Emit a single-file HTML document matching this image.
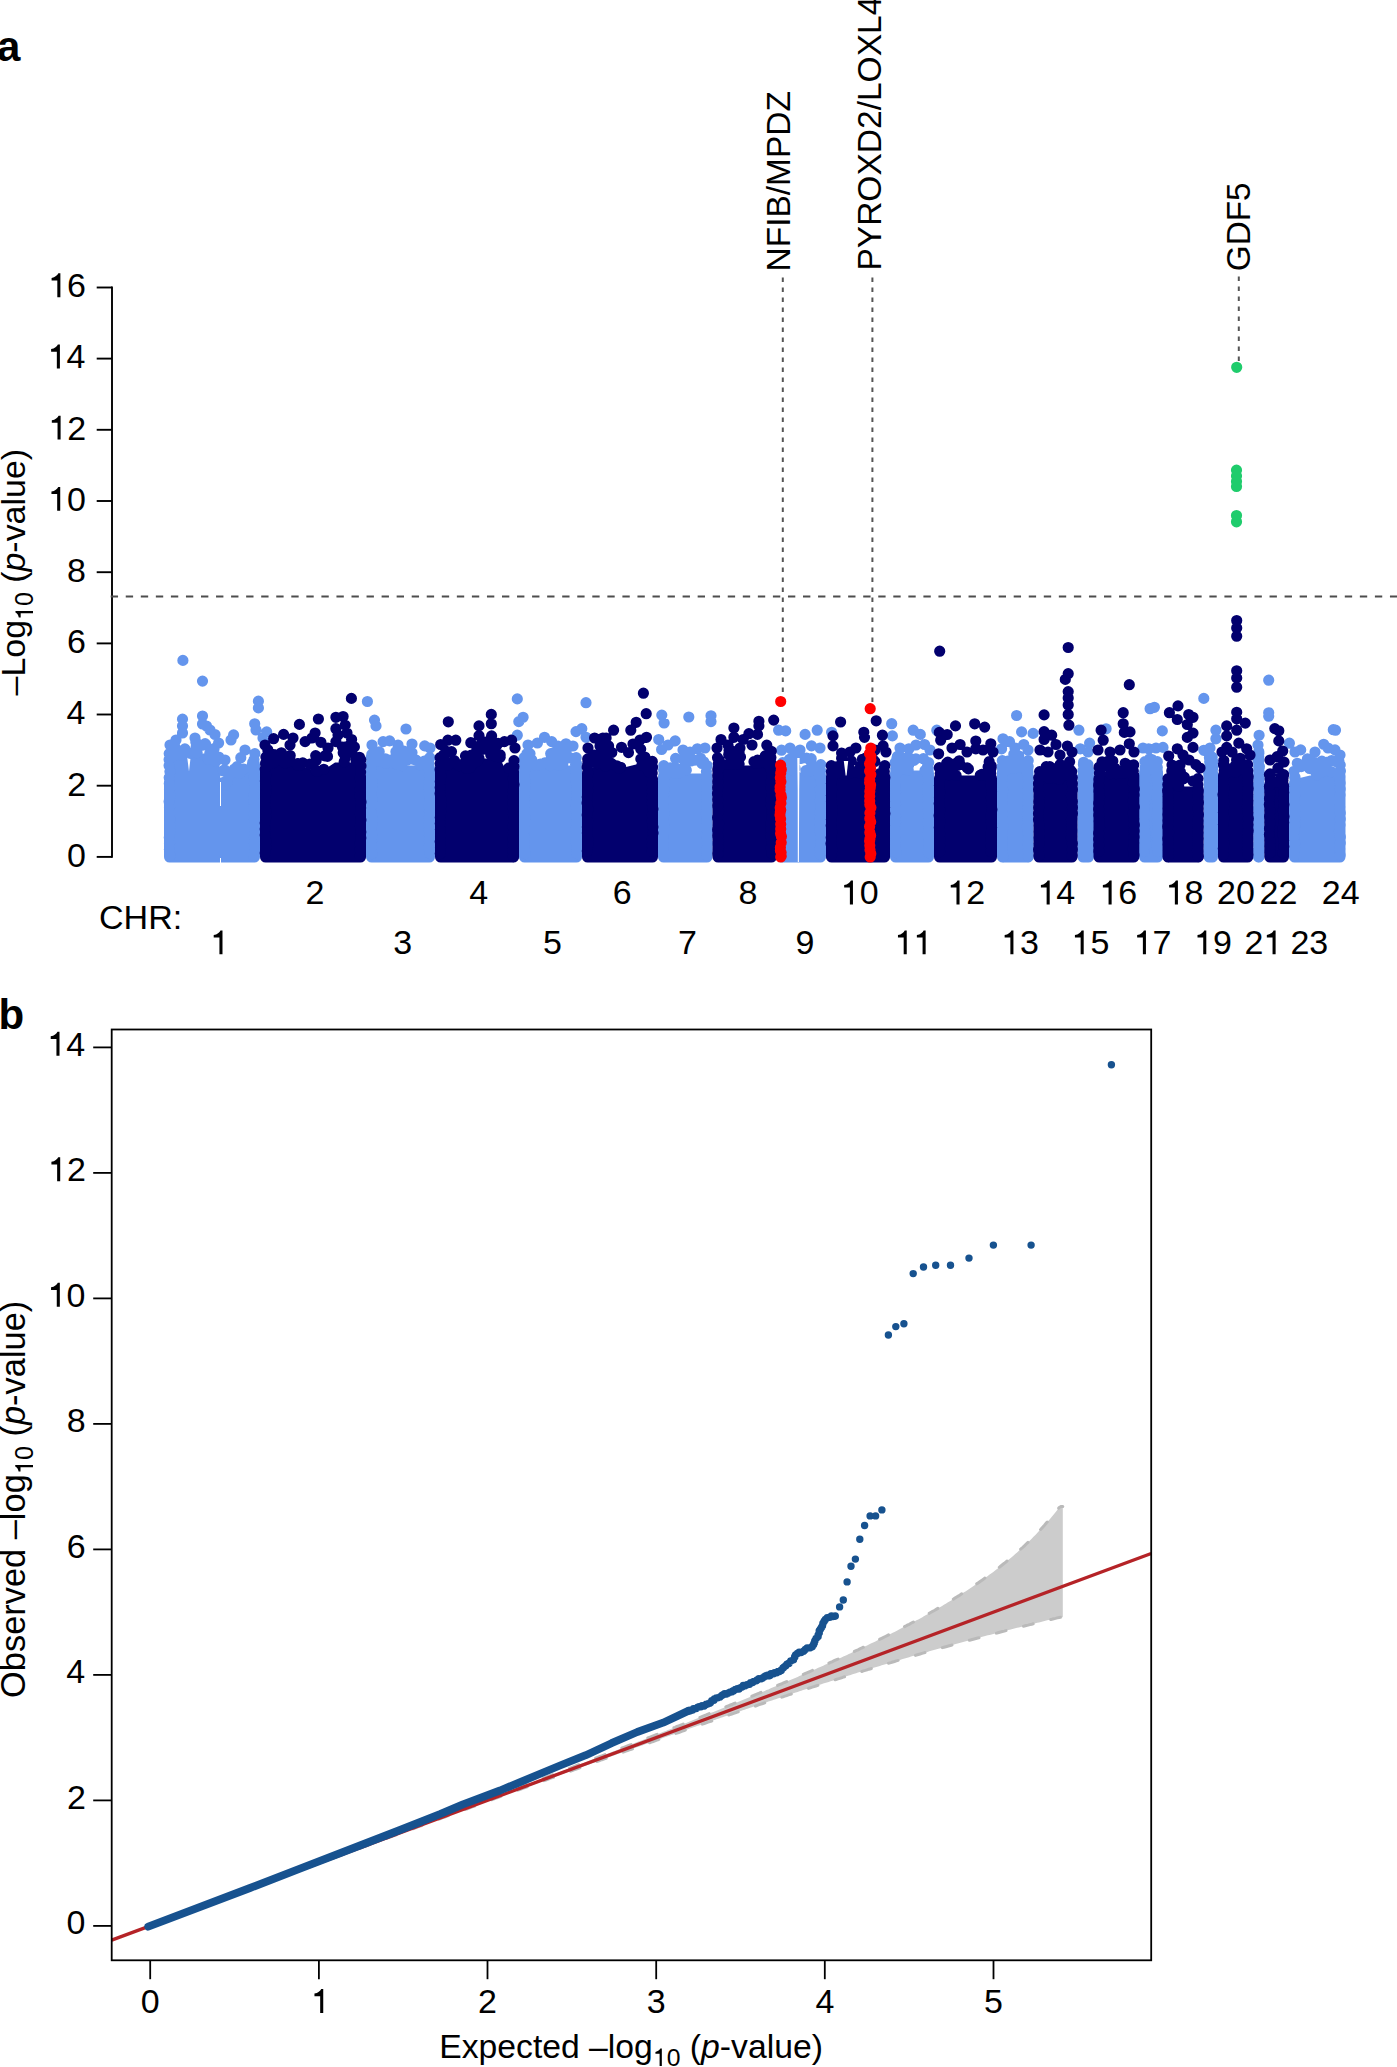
<!DOCTYPE html><html><head><meta charset="utf-8"><style>html,body{margin:0;padding:0;background:#fff;overflow:hidden}svg{display:block}text{font-family:"Liberation Sans",sans-serif;fill:#000}</style></head><body>
<svg width="1397" height="2067" viewBox="0 0 1397 2067">
<rect width="1397" height="2067" fill="#fff"/>
<g transform="translate(-3.02 61.2)"><text x="0" y="0" font-size="42" font-weight="bold">a</text></g>
<g transform="translate(-1.62 1029)"><text x="0" y="0" font-size="42" font-weight="bold">b</text></g>
<g stroke="#000" stroke-width="1.9" fill="none">
<path d="M112 286.6 V857.8"/>
<path d="M96.7 856.9H112"/>
<path d="M96.7 785.7H112"/>
<path d="M96.7 714.5H112"/>
<path d="M96.7 643.4H112"/>
<path d="M96.7 572.2H112"/>
<path d="M96.7 501H112"/>
<path d="M96.7 429.8H112"/>
<path d="M96.7 358.6H112"/>
<path d="M96.7 287.5H112"/>
</g>
<g transform="translate(66.92 866.7)"><text x="0" y="0" font-size="34">0</text></g>
<g transform="translate(67.3 795.52)"><text x="0" y="0" font-size="34">2</text></g>
<g transform="translate(66.59 724.34)"><text x="0" y="0" font-size="34">4</text></g>
<g transform="translate(67.08 653.16)"><text x="0" y="0" font-size="34">6</text></g>
<g transform="translate(67.06 581.98)"><text x="0" y="0" font-size="34">8</text></g>
<g transform="translate(48.02 510.8)"><text x="18.9" y="0" font-size="34">0</text><path d="M9.15 0L12.21 0L12.21 -23.9L10.2 -23.9C9.25 -21.76 6.97 -19.89 3.43 -19.38L3.43 -16.8L9.15 -16.8Z"/></g>
<g transform="translate(48.39 439.62)"><text x="18.9" y="0" font-size="34">2</text><path d="M9.15 0L12.21 0L12.21 -23.9L10.2 -23.9C9.25 -21.76 6.97 -19.89 3.43 -19.38L3.43 -16.8L9.15 -16.8Z"/></g>
<g transform="translate(47.69 368.44)"><text x="18.9" y="0" font-size="34">4</text><path d="M9.15 0L12.21 0L12.21 -23.9L10.2 -23.9C9.25 -21.76 6.97 -19.89 3.43 -19.38L3.43 -16.8L9.15 -16.8Z"/></g>
<g transform="translate(48.17 297.26)"><text x="18.9" y="0" font-size="34">6</text><path d="M9.15 0L12.21 0L12.21 -23.9L10.2 -23.9C9.25 -21.76 6.97 -19.89 3.43 -19.38L3.43 -16.8L9.15 -16.8Z"/></g>
<g transform="translate(24.8 695.4) rotate(-90)"><text x="0" y="0" font-size="33.93">&#8211;Log</text><text x="89.33" y="8.2" font-size="24.94">0</text><text x="112.62" y="0" font-size="33.93">(</text><text x="123.92" y="0" font-size="33.93" font-style="italic">p</text><text x="142.78" y="0" font-size="33.93">-value)</text><path d="M82.17 8.2L84.41 8.2L84.41 -9.33L82.94 -9.33C82.25 -7.76 80.57 -6.39 77.98 -6.01L77.98 -4.12L82.17 -4.12Z"/></g>
<path d="M110.7 596.5H1397" stroke="#4d4d4d" stroke-width="2.1" stroke-dasharray="7.35 7.7" fill="none"/>
<path d="M164 782.6L164.5 779.6L168 765.6L172 755.6L187 755.6L189 771.6L191 753.6L205 753.6L207 761.6L219 761.6L221 785.6L228 785.6L230 775.6L240 775.6L241 771.6L251 771.6L253 761.6L259.5 761.6L260 764.6L260 857A5.6 5.6 0 0 1 254.4 862.6L169.6 862.6A5.6 5.6 0 0 1 164 857Z" fill="#6495ED"/>
<path d="M197.1 752.8h0M224.8 785.4h0M215 758.4h0M174.5 750.2h0M172.8 751.4h0M175.5 755.3h0M205.6 744.2h0M180.1 754.1h0M222.8 770.9h0M218.5 758h0M252.4 764.5h0M242.4 769.4h0M181.8 755.1h0M195.8 742h0M184.9 748.9h0M223.8 782.3h0M216 761.4h0M174.7 754.3h0M227.3 781.5h0M196.2 746.8h0M208 759.3h0M237 766.6h0M190.3 753.3h0M214.1 748.7h0M231.5 773.4h0M252.7 762.5h0M205.1 743.6h0M182.5 750.5h0M172.9 747.2h0M234.4 769h0M243.8 769.1h0M228.6 775.8h0M218.8 757h0M240.8 757.7h0M209.8 753.3h0M174.7 746.5h0M224.5 769.8h0M239.3 773.5h0M202.3 745.2h0M171.5 752.2h0M169.2 753.6h0M169.1 759.6h0M169.1 765.6h0M169.9 771.6h0M169.2 777.6h0M169.3 783.6h0M169.5 789.6h0M170 795.6h0M169.1 801.6h0M169.5 807.6h0M169.7 813.6h0M170.1 819.6h0M170 825.6h0M170 831.6h0M169.3 837.6h0M169.5 843.6h0M169.4 849.6h0M170.1 855.6h0M254.9 753.6h0M254 759.6h0M254 765.6h0M254.1 771.6h0M254.1 777.6h0M254.4 783.6h0M254.5 789.6h0M254.1 795.6h0M253.8 801.6h0M254.3 807.6h0M254.2 813.6h0M254.5 819.6h0M254.9 825.6h0M254.6 831.6h0M254.4 837.6h0M254.5 843.6h0M254.6 849.6h0M253.9 855.6h0M182.9 660.4h0M202.5 681.1h0M258.4 701.2h0M258.4 707.9h0M182.5 719.2h0M182.5 726h0M182.5 733h0M202.5 716h0M202.5 724h0M206.5 726h0M210 730h0M215 734.5h0M218.6 743h0M233.6 734.9h0M231 740h0M254.7 723.8h0M256 730h0M266.7 731.9h0M263 738h0M170 745h0M176 740h0M195 738h0M225 760h0M245 750h0" stroke="#6495ED" stroke-width="11.2" stroke-linecap="round" fill="none"/>
<path d="M366 768.6L366.5 765.6L434.5 765.6L435 768.6L435 857A5.6 5.6 0 0 1 429.4 862.6L371.6 862.6A5.6 5.6 0 0 1 366 857Z" fill="#6495ED"/>
<path d="M385.5 758.8h0M386.6 761.6h0M379.2 751.8h0M392 761h0M405.3 752h0M395.9 751.7h0M400.6 759.8h0M401.9 765.6h0M397 764.5h0M371.8 754.4h0M381.6 760.8h0M413.5 759.3h0M390.4 760h0M403.7 754.8h0M377.7 759.3h0M386 763.5h0M416.2 760.2h0M404.1 755.3h0M424.3 761.2h0M407 760.2h0M401.2 756.7h0M397.7 759.7h0M399.2 751.1h0M412 752.6h0M426.1 763.8h0M403.9 751h0M420.2 764.9h0M378.6 761.3h0M371.1 757.6h0M371.3 763.6h0M371.1 769.6h0M371.8 775.6h0M371.9 781.6h0M372.1 787.6h0M371.2 793.6h0M371.9 799.6h0M371.8 805.6h0M371.2 811.6h0M372.1 817.6h0M372.2 823.6h0M371.3 829.6h0M372.1 835.6h0M371.5 841.6h0M371.6 847.6h0M372.2 853.6h0M429.8 757.6h0M429 763.6h0M429.3 769.6h0M429.4 775.6h0M429.2 781.6h0M429 787.6h0M429.2 793.6h0M429.7 799.6h0M428.8 805.6h0M429.5 811.6h0M429.3 817.6h0M428.8 823.6h0M429.2 829.6h0M429.5 835.6h0M429.4 841.6h0M428.9 847.6h0M430 853.6h0M367.4 701.5h0M374.5 720.1h0M376 725.9h0M406 729h0M383.1 741.6h0M389.6 740.9h0M424.7 745.9h0M372 745h0M398 745h0M412 744h0M430 748h0" stroke="#6495ED" stroke-width="11.2" stroke-linecap="round" fill="none"/>
<path d="M519 768.6L519.5 765.6L581.5 765.6L582 768.6L582 857A5.6 5.6 0 0 1 576.4 862.6L524.6 862.6A5.6 5.6 0 0 1 519 857Z" fill="#6495ED"/>
<path d="M526.8 765.6h0M540.4 764h0M554.9 759.8h0M563.5 757.4h0M561.7 752.6h0M544.8 762.9h0M575.6 764.8h0M562.1 757.7h0M526.9 753.6h0M570.8 758h0M562.6 754.1h0M531.8 759.9h0M550.7 753.6h0M566.3 753.8h0M554.9 752.3h0M560 756.7h0M536.5 765.5h0M531.5 762.5h0M530 753.6h0M553.5 758h0M557 757h0M549.9 765.6h0M565.9 755.5h0M550.7 759.7h0M558.8 765.4h0M562.8 763.8h0M524.1 757.6h0M524.3 763.6h0M524.9 769.6h0M524.2 775.6h0M524.9 781.6h0M525.2 787.6h0M524.6 793.6h0M524.5 799.6h0M524.6 805.6h0M524.8 811.6h0M524.9 817.6h0M524.7 823.6h0M524.8 829.6h0M524.1 835.6h0M524.2 841.6h0M524.3 847.6h0M524.9 853.6h0M576.2 757.6h0M576.5 763.6h0M575.8 769.6h0M575.9 775.6h0M576.1 781.6h0M576.6 787.6h0M576.6 793.6h0M576.6 799.6h0M576.1 805.6h0M576.4 811.6h0M576.4 817.6h0M576.4 823.6h0M575.9 829.6h0M576.9 835.6h0M576 841.6h0M577 847.6h0M576.9 853.6h0M517.3 698.9h0M523.1 717.3h0M518.8 721.6h0M586 702.7h0M581.8 728.7h0M576 731.6h0M586 737.3h0M544.5 737.3h0M537.4 743h0M551.7 741.6h0M566 743.8h0M517.3 735.2h0M528 745h0M558 746h0M573 746h0" stroke="#6495ED" stroke-width="11.2" stroke-linecap="round" fill="none"/>
<path d="M658 776.6L658.5 773.6L712 773.6L712 773.6L712.5 776.6L712.5 857A5.6 5.6 0 0 1 706.9 862.6L663.6 862.6A5.6 5.6 0 0 1 658 857Z" fill="#6495ED"/>
<path d="M667.5 770.7h0M667.5 772h0M674.8 767.1h0M702 763.5h0M681.5 769.7h0M686.3 770.2h0M678.2 773.4h0M675.6 758.4h0M669.1 768.3h0M690.9 761h0M673 771.6h0M674.4 769.9h0M682.9 758.8h0M700.3 760.7h0M664.5 773.5h0M694.3 760.2h0M684.1 766.8h0M663.6 770h0M703.7 761.8h0M700.6 758.3h0M674.4 773.1h0M670.3 767.9h0M663.8 765.6h0M664.1 771.6h0M663.9 777.6h0M663.8 783.6h0M663.9 789.6h0M663.5 795.6h0M663.7 801.6h0M663 807.6h0M663.9 813.6h0M663.3 819.6h0M664.1 825.6h0M663.8 831.6h0M663.4 837.6h0M663.2 843.6h0M663.3 849.6h0M663.8 855.6h0M707.1 765.6h0M706.4 771.6h0M706.4 777.6h0M706.9 783.6h0M707 789.6h0M706.8 795.6h0M706.6 801.6h0M707 807.6h0M706.3 813.6h0M706.7 819.6h0M706.9 825.6h0M707.5 831.6h0M707.1 837.6h0M707.4 843.6h0M706.9 849.6h0M706.6 855.6h0M661.8 715.1h0M664.1 723h0M688.8 717h0M711 715.8h0M711 721.6h0M658.7 739.5h0M675.2 740.9h0M661.6 749.5h0M697.4 748.8h0M668 745h0M683 750h0M705 748h0M690 752h0" stroke="#6495ED" stroke-width="11.2" stroke-linecap="round" fill="none"/>
<path d="M777 773.6L777.5 770.6L798 770.6L800 772.6L825.5 772.6L826 775.6L826 857A5.6 5.6 0 0 1 820.4 862.6L782.6 862.6A5.6 5.6 0 0 1 777 857Z" fill="#6495ED"/>
<path d="M816.6 769.8h0M792.9 755.7h0M805.9 770.7h0M809.7 770.1h0M793 770.6h0M811.2 758.7h0M806.6 758h0M783.5 769h0M800.6 757.7h0M818.7 769.1h0M792.1 766.5h0M801.3 758.4h0M789.5 759.3h0M810.5 760.9h0M811.8 765.4h0M795 768h0M796.3 759.8h0M785.6 769.4h0M811.1 770.9h0M785 770.5h0M782.7 762.6h0M782.4 768.6h0M783.2 774.6h0M783.1 780.6h0M783.2 786.6h0M782.3 792.6h0M782.1 798.6h0M782.1 804.6h0M782.6 810.6h0M782.9 816.6h0M782.5 822.6h0M782.3 828.6h0M782.5 834.6h0M782.7 840.6h0M782.8 846.6h0M782.9 852.6h0M820.8 764.6h0M820.6 770.6h0M819.9 776.6h0M820.8 782.6h0M820.2 788.6h0M820.5 794.6h0M820.2 800.6h0M820.7 806.6h0M820 812.6h0M820.1 818.6h0M820.1 824.6h0M820 830.6h0M820.9 836.6h0M820.5 842.6h0M820.2 848.6h0M820.3 854.6h0M778.6 730.2h0M785.7 730.9h0M805.1 734.4h0M817.2 730.2h0M811.5 745.9h0M781.5 750.2h0M831.6 732.3h0M790 748h0M800 750h0M820 748h0" stroke="#6495ED" stroke-width="11.2" stroke-linecap="round" fill="none"/>
<path d="M890 773.6L890.5 770.6L933.5 770.6L934 773.6L934 857A5.6 5.6 0 0 1 928.4 862.6L895.6 862.6A5.6 5.6 0 0 1 890 857Z" fill="#6495ED"/>
<path d="M926 770.1h0M911.7 759.3h0M927.3 769.4h0M899.8 756h0M927.6 765.6h0M897.4 756.4h0M908.3 757h0M915.9 758.8h0M900.9 759.7h0M902.9 766.8h0M923.4 758.7h0M901.6 769.2h0M908.7 765h0M908.2 770h0M903.7 761h0M925 770.5h0M914 760.3h0M896.9 758.5h0M895.1 762.6h0M895.7 768.6h0M895.7 774.6h0M895.8 780.6h0M895.4 786.6h0M895.5 792.6h0M895.7 798.6h0M895.5 804.6h0M895.8 810.6h0M895.5 816.6h0M895.5 822.6h0M895 828.6h0M895.7 834.6h0M895.6 840.6h0M895.3 846.6h0M895.9 852.6h0M928.7 762.6h0M928.3 768.6h0M928 774.6h0M928.4 780.6h0M927.9 786.6h0M928 792.6h0M928.3 798.6h0M927.9 804.6h0M928.3 810.6h0M928.4 816.6h0M927.8 822.6h0M928.6 828.6h0M927.9 834.6h0M928.7 840.6h0M928.7 846.6h0M928.4 852.6h0M891.7 723.7h0M892.4 735.9h0M913.2 730.2h0M920.3 734.4h0M936.8 730.2h0M924.6 744.5h0M908.9 748.8h0M900 748h0M930 750h0M916 745h0" stroke="#6495ED" stroke-width="11.2" stroke-linecap="round" fill="none"/>
<path d="M997 771.6L997.5 768.6L1033 768.6L1033 768.6L1033.5 771.6L1033.5 857A5.6 5.6 0 0 1 1027.9 862.6L1002.6 862.6A5.6 5.6 0 0 1 997 857Z" fill="#6495ED"/>
<path d="M1011.6 767.1h0M1017.4 761.7h0M1007.8 761.1h0M1014.6 768h0M1026.3 766.9h0M1006.4 768.2h0M1018.7 755.8h0M1022.4 764.9h0M1009.3 768.6h0M1018.9 762.2h0M1011.5 760.7h0M1013.8 754.2h0M1021.2 766.9h0M1025.5 768.5h0M1016 764.8h0M1002.3 760.6h0M1002.1 766.6h0M1002.9 772.6h0M1002 778.6h0M1002.7 784.6h0M1003.1 790.6h0M1002.2 796.6h0M1002.2 802.6h0M1002.7 808.6h0M1002.6 814.6h0M1002.8 820.6h0M1003 826.6h0M1002.2 832.6h0M1002.4 838.6h0M1002.4 844.6h0M1002.1 850.6h0M1003.1 856.6h0M1028.2 760.6h0M1028.2 766.6h0M1027.3 772.6h0M1028.3 778.6h0M1028.2 784.6h0M1027.9 790.6h0M1028.2 796.6h0M1027.8 802.6h0M1027.6 808.6h0M1027.4 814.6h0M1027.6 820.6h0M1027.3 826.6h0M1027.7 832.6h0M1028.2 838.6h0M1028.1 844.6h0M1028.3 850.6h0M1028.2 856.6h0M1016.6 715.5h0M1021.6 731.9h0M1033.1 733.4h0M1003 738.8h0M1009.5 741.7h0M1023.8 744.5h0M1001.6 748.8h0M1015 748h0M1028 750h0" stroke="#6495ED" stroke-width="11.2" stroke-linecap="round" fill="none"/>
<path d="M1077.5 775.6L1078 772.6L1093.5 772.6L1094 775.6L1094 857A5.6 5.6 0 0 1 1088.4 862.6L1083.1 862.6A5.6 5.6 0 0 1 1077.5 857Z" fill="#6495ED"/>
<path d="M1087.5 764.9h0M1084.6 772.2h0M1083.6 762.3h0M1084.2 770h0M1085.3 772.6h0M1084.5 770.5h0M1083.4 764.6h0M1082.9 770.6h0M1082.9 776.6h0M1083.7 782.6h0M1083.1 788.6h0M1083.5 794.6h0M1083.2 800.6h0M1082.5 806.6h0M1083 812.6h0M1083 818.6h0M1083.4 824.6h0M1082.9 830.6h0M1083.3 836.6h0M1083.1 842.6h0M1082.8 848.6h0M1083.5 854.6h0M1087.9 764.6h0M1088.8 770.6h0M1088 776.6h0M1087.8 782.6h0M1088 788.6h0M1088.7 794.6h0M1089 800.6h0M1087.8 806.6h0M1088.4 812.6h0M1088.4 818.6h0M1088.8 824.6h0M1088 830.6h0M1088.4 836.6h0M1088.2 842.6h0M1088.8 848.6h0M1088.1 854.6h0M1078.9 730.2h0M1089.6 743.1h0M1080.3 748.8h0M1106.1 728.8h0M1088 752h0" stroke="#6495ED" stroke-width="11.2" stroke-linecap="round" fill="none"/>
<path d="M1139 772.6L1139.5 769.6L1162.5 769.6L1163 772.6L1163 857A5.6 5.6 0 0 1 1157.4 862.6L1144.6 862.6A5.6 5.6 0 0 1 1139 857Z" fill="#6495ED"/>
<path d="M1146 768.3h0M1149.6 769.5h0M1149.7 758.6h0M1153.5 764.3h0M1152.7 764.9h0M1146.4 762.5h0M1149.8 759.7h0M1156.2 765.5h0M1151.9 759.5h0M1150 768.1h0M1144.9 761.6h0M1145.1 767.6h0M1144.9 773.6h0M1144.8 779.6h0M1145 785.6h0M1144.8 791.6h0M1144.8 797.6h0M1144.5 803.6h0M1144.4 809.6h0M1144.8 815.6h0M1144.1 821.6h0M1144.5 827.6h0M1144.9 833.6h0M1144.9 839.6h0M1144.8 845.6h0M1144.3 851.6h0M1157.3 761.6h0M1157.3 767.6h0M1157.5 773.6h0M1157.3 779.6h0M1157.6 785.6h0M1157.9 791.6h0M1157 797.6h0M1157.6 803.6h0M1157.7 809.6h0M1157.3 815.6h0M1157.4 821.6h0M1158 827.6h0M1156.8 833.6h0M1157.5 839.6h0M1157 845.6h0M1157.7 851.6h0M1154.4 707.3h0M1150.1 708.7h0M1162.3 730.9h0M1148.7 748.8h0M1163 747.4h0M1143 748h0M1156 748h0" stroke="#6495ED" stroke-width="11.2" stroke-linecap="round" fill="none"/>
<path d="M1203.6 772.6L1204.1 769.6L1217.5 769.6L1218 772.6L1218 857A5.6 5.6 0 0 1 1212.4 862.6L1209.2 862.6A5.6 5.6 0 0 1 1203.6 857Z" fill="#6495ED"/>
<path d="M1210.1 767.9h0M1210.2 764.7h0M1210.6 761.8h0M1211.3 766.4h0M1212.2 757.2h0M1209.4 757.8h0M1209.7 761.6h0M1209.5 767.6h0M1208.8 773.6h0M1209.6 779.6h0M1209.4 785.6h0M1208.6 791.6h0M1208.6 797.6h0M1209.7 803.6h0M1209.4 809.6h0M1208.9 815.6h0M1208.7 821.6h0M1208.8 827.6h0M1208.9 833.6h0M1209.5 839.6h0M1209 845.6h0M1208.8 851.6h0M1212.9 761.6h0M1212.8 767.6h0M1212 773.6h0M1212.9 779.6h0M1212.5 785.6h0M1212.7 791.6h0M1212.6 797.6h0M1212.9 803.6h0M1212.7 809.6h0M1212.8 815.6h0M1212 821.6h0M1212.6 827.6h0M1212.4 833.6h0M1212.7 839.6h0M1212.3 845.6h0M1212.9 851.6h0M1203.8 698.4h0M1203.8 750.3h0M1215.9 730.2h0M1215.9 738.8h0M1210 748h0" stroke="#6495ED" stroke-width="11.2" stroke-linecap="round" fill="none"/>
<path d="M1253.3 765.6L1253.8 762.6L1264 762.6L1263.8 762.6L1264.3 765.6L1264.3 857A5.6 5.6 0 0 1 1258.7 862.6L1258.9 862.6A5.6 5.6 0 0 1 1253.3 857Z" fill="#6495ED"/>
<path d="M1258.8 751.8h0M1258.9 753.1h0M1258.7 756.5h0M1258.9 760.3h0M1258.3 754.6h0M1258.5 760.6h0M1259.4 766.6h0M1259 772.6h0M1259.1 778.6h0M1259.2 784.6h0M1259.4 790.6h0M1259 796.6h0M1259 802.6h0M1259.1 808.6h0M1259.1 814.6h0M1259 820.6h0M1259.1 826.6h0M1258.6 832.6h0M1259.1 838.6h0M1258.8 844.6h0M1259.2 850.6h0M1258.4 856.6h0M1258.3 754.6h0M1258.1 760.6h0M1259 766.6h0M1259.2 772.6h0M1258.9 778.6h0M1258.5 784.6h0M1259.1 790.6h0M1259 796.6h0M1258.8 802.6h0M1258.4 808.6h0M1258.5 814.6h0M1258.6 820.6h0M1258.5 826.6h0M1258.6 832.6h0M1258.9 838.6h0M1259.2 844.6h0M1258.2 850.6h0M1258.8 856.6h0M1268.7 680.2h0M1268.7 712.8h0M1268.7 716.2h0M1259.1 735.3h0M1258 745h0" stroke="#6495ED" stroke-width="11.2" stroke-linecap="round" fill="none"/>
<path d="M1289 783.5L1289.5 780.5L1310 775.6L1345 772.6L1345 772.6L1345.5 775.6L1345.5 857A5.6 5.6 0 0 1 1339.9 862.6L1294.6 862.6A5.6 5.6 0 0 1 1289 857Z" fill="#6495ED"/>
<path d="M1308.7 766.3h0M1302.1 764.9h0M1316.6 774.9h0M1311.3 768.9h0M1314.5 766.6h0M1301.2 766.6h0M1311.1 767.6h0M1323.1 770.5h0M1312.1 764.5h0M1337.4 762.4h0M1320.3 772.5h0M1297.3 763.3h0M1326.5 762.4h0M1309.6 768.5h0M1338.9 761.2h0M1321.8 772.1h0M1314 762h0M1311.7 766.7h0M1321.9 761.2h0M1331.2 771.7h0M1294.7 777.4h0M1313.7 768.5h0M1331.6 760.5h0M1294.1 771.3h0M1295 777.3h0M1295 783.3h0M1295 789.3h0M1294.7 795.3h0M1294.3 801.3h0M1295 807.3h0M1295 813.3h0M1294.8 819.3h0M1295.1 825.3h0M1294.4 831.3h0M1294.1 837.3h0M1294.7 843.3h0M1295 849.3h0M1294.2 855.3h0M1340.2 765h0M1340.4 771h0M1339.6 777h0M1340 783h0M1340.1 789h0M1339.9 795h0M1339.5 801h0M1339.6 807h0M1340.2 813h0M1340.2 819h0M1339.9 825h0M1339.4 831h0M1340.3 837h0M1340.2 843h0M1339.6 849h0M1340 855h0M1333.3 729.7h0M1335.5 730.2h0M1289.4 743.2h0M1300.7 749.9h0M1323.7 744.3h0M1335 749.9h0M1338.9 761.1h0M1307.4 758.9h0M1295 752h0M1315 752h0M1328 748h0M1340 755h0" stroke="#6495ED" stroke-width="11.2" stroke-linecap="round" fill="none"/>
<path d="M260 769.5L260.5 766.5L275 762.6L300 765.6L320 772.6L335 762.6L355 762.6L365.5 773.1L366 776.1L366 857A5.6 5.6 0 0 1 360.4 862.6L265.6 862.6A5.6 5.6 0 0 1 260 857Z" fill="#02006e"/>
<path d="M350.9 751.8h0M348.5 751.5h0M302.8 762.9h0M275.4 754.9h0M271.5 763.3h0M285.4 763h0M297.8 765.2h0M265.6 764.3h0M275.2 759.5h0M268 751.6h0M323.8 769.3h0M289.5 761.4h0M300.1 765.1h0M346.1 746.8h0M309.8 764h0M273.7 762.5h0M298.1 763.5h0M344.2 761.7h0M267.8 749.8h0M315.7 770.3h0M317.1 771.5h0M315.7 755.6h0M347.4 753.6h0M290.4 761.2h0M281.4 752.8h0M316.1 760.5h0M296.9 763.8h0M342.5 747h0M346.4 751.3h0M343.2 752.7h0M287.1 758.5h0M299.3 765.5h0M268.2 762.3h0M290.2 755.5h0M356.3 759.5h0M354.4 746.9h0M356.1 760.5h0M286.5 762.5h0M284.2 762.4h0M324.8 755.9h0M345.3 757.7h0M327.5 756.4h0M273.6 754.7h0M351.8 751.8h0M265.9 757.1h0M265.6 763.1h0M265.2 769.1h0M265.9 775.1h0M265.4 781.1h0M266 787.1h0M266.2 793.1h0M265.5 799.1h0M265.5 805.1h0M266.1 811.1h0M265.9 817.1h0M265.2 823.1h0M265.2 829.1h0M265.2 835.1h0M266.1 841.1h0M266 847.1h0M265.2 853.1h0M360.8 760h0M361 766h0M360.6 772h0M360.2 778h0M360.5 784h0M360 790h0M359.8 796h0M361 802h0M360.6 808h0M360.4 814h0M360.9 820h0M360.3 826h0M360.8 832h0M360.8 838h0M360.1 844h0M360.1 850h0M360.2 856h0M351.4 698.4h0M299.4 724.4h0M318.4 719h0M335.9 717.3h0M343.1 716.5h0M345.2 725.1h0M335.9 728.7h0M315.1 733h0M273.6 738.7h0M283.6 734.4h0M293 738h0M305.1 741.6h0M320.9 742.3h0M335.9 741.6h0M351.6 739.5h0M359.5 757.3h0M338 735h0M347 733h0M312 738h0M328 748h0M265 745h0M290 745h0" stroke="#02006e" stroke-width="11.2" stroke-linecap="round" fill="none"/>
<path d="M435 768.6L435.5 765.6L462 765.6L470 770.6L480 758.6L500 758.6L505 768.6L518.5 768.6L519 771.6L519 857A5.6 5.6 0 0 1 513.4 862.6L440.6 862.6A5.6 5.6 0 0 1 435 857Z" fill="#02006e"/>
<path d="M498 743.3h0M448.2 763.7h0M443.5 754.9h0M460.3 765h0M471.3 755.2h0M500.2 757.2h0M451.5 751.6h0M482.1 749.5h0M447.1 765.4h0M490.7 754.5h0M445.9 751.1h0M486.8 747.4h0M446.7 753.1h0M445.5 753h0M473.6 763.4h0M480.9 744.4h0M460.1 765h0M479 758.2h0M448.6 764.7h0M444.3 764.4h0M463.3 764h0M495.9 756.4h0M477 761.2h0M465.9 768h0M458.8 765.6h0M494 752.4h0M454.4 760.7h0M508.6 768.2h0M500.2 754.9h0M476.6 750.7h0M469.2 764.7h0M490.7 743h0M465.5 755.9h0M492 750.8h0M470.1 767.6h0M440.1 757.6h0M440.2 763.6h0M440.1 769.6h0M440.9 775.6h0M440.3 781.6h0M440.2 787.6h0M440.1 793.6h0M441 799.6h0M441 805.6h0M440.8 811.6h0M440.3 817.6h0M440.3 823.6h0M440.4 829.6h0M440.6 835.6h0M440.2 841.6h0M440.5 847.6h0M440.3 853.6h0M514 760.6h0M514 766.6h0M513.5 772.6h0M513.1 778.6h0M514 784.6h0M513.2 790.6h0M513.2 796.6h0M512.8 802.6h0M513.3 808.6h0M513.4 814.6h0M513.4 820.6h0M513 826.6h0M513.4 832.6h0M512.8 838.6h0M513.1 844.6h0M512.9 850.6h0M513.3 856.6h0M448.3 721.8h0M491.3 714.4h0M491.3 723.7h0M479 725.9h0M479 735.6h0M470.8 742.7h0M491.6 735.9h0M511.6 740.2h0M504.4 741.6h0M440.7 744.5h0M447.9 740.2h0M455.8 740.2h0M485 742h0M497 745h0M515 748h0" stroke="#02006e" stroke-width="11.2" stroke-linecap="round" fill="none"/>
<path d="M582 773.5L582.5 770.5L600 765.6L620 768.6L640 763.6L650 773.6L657.5 778.3L658 781.3L658 857A5.6 5.6 0 0 1 652.4 862.6L587.6 862.6A5.6 5.6 0 0 1 582 857Z" fill="#02006e"/>
<path d="M588.7 764.1h0M640.7 749.1h0M616.7 766.2h0M601.2 751.1h0M601.3 759.1h0M596.8 760.8h0M649.3 772.3h0M640.8 758.9h0M645.1 759.6h0M602.6 752.5h0M619.1 768.4h0M587.8 763.8h0M616.8 765.8h0M596.7 763.6h0M608.1 754.7h0M587.7 758.9h0M642 765h0M647.6 761.9h0M646 767.4h0M611.7 763.8h0M652.3 768.2h0M611 763.1h0M605.4 766.3h0M594.2 755.2h0M606.1 752.1h0M603.8 764.2h0M620.7 767.3h0M611.8 752.5h0M644.9 757h0M628.5 752.6h0M648.6 766h0M587.9 761h0M587.1 767h0M587.9 773h0M587.5 779h0M587.9 785h0M587.8 791h0M587.3 797h0M587.1 803h0M588.1 809h0M587.2 815h0M587.6 821h0M587.4 827h0M587.4 833h0M587.9 839h0M588.2 845h0M587.3 851h0M652.6 767.1h0M652.2 773.1h0M652.5 779.1h0M652.3 785.1h0M652 791.1h0M652 797.1h0M652 803.1h0M652.9 809.1h0M652.4 815.1h0M652.1 821.1h0M652.9 827.1h0M653 833.1h0M652.3 839.1h0M652 845.1h0M652 851.1h0M643.4 693.2h0M646.2 713.7h0M636.2 722.3h0M613.6 730.2h0M630.8 730.2h0M602.9 738h0M594.6 738h0M606.1 738h0M646.5 737.3h0M608.6 745.9h0M621.5 747.3h0M652.3 761.4h0M640 740h0M633 744h0M588 748h0M600 746h0" stroke="#02006e" stroke-width="11.2" stroke-linecap="round" fill="none"/>
<path d="M712.5 768.6L713 765.6L776.5 765.6L777 768.6L777 857A5.6 5.6 0 0 1 771.4 862.6L718.1 862.6A5.6 5.6 0 0 1 712.5 857Z" fill="#02006e"/>
<path d="M731.3 750.6h0M755.7 763.2h0M719.3 760.4h0M754 761.6h0M731.8 757.2h0M767.4 764.1h0M719.9 762.8h0M740.5 756.9h0M728.7 754.5h0M757.5 760.2h0M729 750.4h0M734.7 754h0M730.4 764.2h0M758.6 763.3h0M768.8 760.4h0M728.1 764.1h0M740.3 757.3h0M768.7 764.9h0M739.1 764.3h0M770 764.9h0M720.9 765.4h0M739.1 752.1h0M765.2 755.9h0M771.3 751.3h0M735.6 764.5h0M768 755.6h0M717.5 757.6h0M718.3 763.6h0M718 769.6h0M717.9 775.6h0M717.9 781.6h0M717.7 787.6h0M717.5 793.6h0M717.8 799.6h0M717.9 805.6h0M718.6 811.6h0M717.6 817.6h0M718.7 823.6h0M717.7 829.6h0M717.9 835.6h0M718.5 841.6h0M718.5 847.6h0M718 853.6h0M770.9 757.6h0M771.4 763.6h0M771.2 769.6h0M771.9 775.6h0M771 781.6h0M771.2 787.6h0M771.9 793.6h0M770.8 799.6h0M771.3 805.6h0M771.8 811.6h0M771.7 817.6h0M770.8 823.6h0M770.8 829.6h0M770.9 835.6h0M771.9 841.6h0M771.1 847.6h0M771.7 853.6h0M773.7 720.1h0M758.9 721.3h0M758.9 725.9h0M733.9 728h0M748.9 733.7h0M757.5 734.4h0M743.2 739.5h0M721 739.5h0M733.9 737.3h0M766.8 745.2h0M728 745h0M740 748h0M752 745h0M717 748h0" stroke="#02006e" stroke-width="11.2" stroke-linecap="round" fill="none"/>
<path d="M826 776.6L826.5 773.6L889.5 773.6L890 776.6L890 857A5.6 5.6 0 0 1 884.4 862.6L831.6 862.6A5.6 5.6 0 0 1 826 857Z" fill="#02006e"/>
<path d="M884 768.2h0M843.8 762.2h0M866.1 757.8h0M837 768.7h0M874.8 761.5h0M879.9 773.5h0M847.1 773.1h0M841.6 758.3h0M862.4 759.3h0M851.3 760.9h0M855.3 771.7h0M872.7 759h0M837.2 766.6h0M864.3 772.2h0M851.1 772.9h0M842.4 771.8h0M863.2 765.5h0M842.3 773.6h0M848.9 765h0M841.4 771.1h0M842.3 762.5h0M860.5 773.4h0M837 770h0M860.6 765.8h0M836.4 772.7h0M868.3 769.8h0M831.3 765.6h0M831.4 771.6h0M832.1 777.6h0M831.4 783.6h0M831.7 789.6h0M831.4 795.6h0M831.5 801.6h0M832 807.6h0M832.2 813.6h0M831.4 819.6h0M831.2 825.6h0M831.9 831.6h0M831.2 837.6h0M831 843.6h0M832.1 849.6h0M831.5 855.6h0M884.8 765.6h0M884.3 771.6h0M884.9 777.6h0M884.4 783.6h0M884 789.6h0M883.8 795.6h0M884.5 801.6h0M884.6 807.6h0M884.9 813.6h0M883.9 819.6h0M884.5 825.6h0M884.2 831.6h0M884.4 837.6h0M884 843.6h0M884.1 849.6h0M884.4 855.6h0M840.6 722h0M876.2 720.8h0M833 735.9h0M863.8 732.3h0M864.5 737.3h0M882.4 735.2h0M883.1 745.9h0M855.9 748h0M833 745.9h0M841.6 753h0M850 752h0M875 750h0M886 752h0" stroke="#02006e" stroke-width="11.2" stroke-linecap="round" fill="none"/>
<path d="M934 778.6L934.5 775.6L996.5 775.6L997 778.6L997 857A5.6 5.6 0 0 1 991.4 862.6L939.6 862.6A5.6 5.6 0 0 1 934 857Z" fill="#02006e"/>
<path d="M942.4 770.3h0M959.2 760.8h0M946.7 763.1h0M991.2 765.9h0M981.8 774.4h0M990.5 770.5h0M989.2 761.7h0M948.2 764.7h0M987.8 775.4h0M957.8 765.4h0M947.8 762.2h0M953.8 764.1h0M947 770.3h0M987.3 774.3h0M953.2 770.2h0M956.1 775.5h0M949 774.7h0M988.1 767h0M986 774.7h0M980.3 775.1h0M967.1 767.8h0M958.2 762.7h0M968.4 768.9h0M985.3 775.2h0M991 768h0M960 764.5h0M939.3 767.6h0M940.2 773.6h0M939.7 779.6h0M939.4 785.6h0M939.9 791.6h0M939.5 797.6h0M939.2 803.6h0M939.9 809.6h0M939.1 815.6h0M940 821.6h0M939.3 827.6h0M939.8 833.6h0M940.2 839.6h0M939.7 845.6h0M939.8 851.6h0M991.2 767.6h0M990.8 773.6h0M990.8 779.6h0M991 785.6h0M991.5 791.6h0M991.3 797.6h0M991.4 803.6h0M991.9 809.6h0M991 815.6h0M991.1 821.6h0M991.6 827.6h0M990.8 833.6h0M990.8 839.6h0M991.2 845.6h0M990.9 851.6h0M939.7 651.2h0M955.5 725.9h0M974.7 723.8h0M984.7 727.1h0M939.3 732.4h0M947.2 734.5h0M940.7 740.2h0M960.1 744.5h0M975.8 741h0M990.8 743.8h0M938.6 753.8h0M975.8 748.8h0M952 748h0M967 752h0M983 750h0M993 752h0" stroke="#02006e" stroke-width="11.2" stroke-linecap="round" fill="none"/>
<path d="M1033.5 782.6L1034 779.6L1077 779.6L1077 779.6L1077.5 782.6L1077.5 857A5.6 5.6 0 0 1 1071.9 862.6L1039.1 862.6A5.6 5.6 0 0 1 1033.5 857Z" fill="#02006e"/>
<path d="M1047.8 773.4h0M1053.4 768.7h0M1056.3 777.7h0M1060.2 764.5h0M1046.2 766.6h0M1039.6 777.7h0M1046.8 769.6h0M1070.1 769.6h0M1049.8 766.6h0M1049.9 778h0M1068.9 771.9h0M1061.8 771.3h0M1071.2 774.8h0M1066.6 770.6h0M1067.2 775.3h0M1062.9 773.1h0M1049.2 778.3h0M1059.5 779.3h0M1039.6 771.6h0M1038.7 777.6h0M1038.5 783.6h0M1038.6 789.6h0M1039.6 795.6h0M1038.9 801.6h0M1038.7 807.6h0M1038.5 813.6h0M1038.5 819.6h0M1039.3 825.6h0M1039.3 831.6h0M1039.3 837.6h0M1039.4 843.6h0M1038.6 849.6h0M1039.2 855.6h0M1071.7 771.6h0M1072.3 777.6h0M1072.3 783.6h0M1072.4 789.6h0M1071.4 795.6h0M1072.3 801.6h0M1072.4 807.6h0M1072.4 813.6h0M1071.4 819.6h0M1071.5 825.6h0M1071.4 831.6h0M1071.3 837.6h0M1072.3 843.6h0M1072.3 849.6h0M1072.1 855.6h0M1068.2 647.5h0M1068.2 673.7h0M1065.3 679.4h0M1068.2 691.6h0M1068.2 698h0M1068.2 705h0M1068.2 714.5h0M1068.9 725.2h0M1044.1 714.9h0M1044.1 731.6h0M1044.1 739.5h0M1051.7 735.2h0M1056 744.5h0M1067.4 746h0M1069.6 761.7h0M1040 750h0M1048 752h0M1060 755h0M1072 752h0" stroke="#02006e" stroke-width="11.2" stroke-linecap="round" fill="none"/>
<path d="M1093.5 778.5L1094 775.5L1139 772.6L1138.8 772.6L1139.3 775.6L1139.3 857A5.6 5.6 0 0 1 1133.7 862.6L1099.1 862.6A5.6 5.6 0 0 1 1093.5 857Z" fill="#02006e"/>
<path d="M1131.8 770.9h0M1106.5 765.7h0M1116.3 773.6h0M1121.1 773.5h0M1126.4 764.4h0M1126.3 765.8h0M1111.4 770.7h0M1112.8 761h0M1102.1 761.8h0M1100 773.9h0M1108.2 761.1h0M1116.4 770.7h0M1129.7 771.6h0M1115 768.3h0M1125.2 763.3h0M1121.5 770.8h0M1110.4 773.7h0M1128.3 765h0M1124.8 772.6h0M1099 767.2h0M1099.4 773.2h0M1099.2 779.2h0M1098.7 785.2h0M1099.1 791.2h0M1099.6 797.2h0M1098.8 803.2h0M1098.7 809.2h0M1098.9 815.2h0M1099.3 821.2h0M1099.5 827.2h0M1098.7 833.2h0M1098.7 839.2h0M1098.8 845.2h0M1098.9 851.2h0M1133.7 764.9h0M1133.3 770.9h0M1133.5 776.9h0M1133.3 782.9h0M1134.3 788.9h0M1134 794.9h0M1133.2 800.9h0M1134.3 806.9h0M1133.2 812.9h0M1133.6 818.9h0M1134.3 824.9h0M1134.1 830.9h0M1134 836.9h0M1133.6 842.9h0M1133.3 848.9h0M1133.9 854.9h0M1129.3 684.7h0M1123.2 712.7h0M1123.2 723.8h0M1124.3 732.4h0M1130 731.9h0M1129.3 743.8h0M1111.4 760.3h0M1101.1 730.2h0M1103.2 740.2h0M1098 750h0M1110 752h0M1120 750h0M1134 752h0" stroke="#02006e" stroke-width="11.2" stroke-linecap="round" fill="none"/>
<path d="M1162.5 789.6L1163 786.6L1203 786.6L1203.1 786.6L1203.6 789.6L1203.6 857A5.6 5.6 0 0 1 1198 862.6L1168.1 862.6A5.6 5.6 0 0 1 1162.5 857Z" fill="#02006e"/>
<path d="M1196.2 781h0M1171.1 780h0M1184.3 777.2h0M1183.4 778.8h0M1192.9 781h0M1180.4 771.9h0M1174.4 777.9h0M1179.8 776.2h0M1171.8 771h0M1178.7 786.4h0M1176.3 782.9h0M1168.5 782.6h0M1180.7 777.6h0M1178.6 784.7h0M1174.8 776.7h0M1196.2 780.9h0M1174.6 775.4h0M1168 778.6h0M1167.8 784.6h0M1167.7 790.6h0M1168.4 796.6h0M1168.5 802.6h0M1168.3 808.6h0M1168.1 814.6h0M1168.2 820.6h0M1167.8 826.6h0M1168.7 832.6h0M1167.9 838.6h0M1168.3 844.6h0M1168.5 850.6h0M1168.5 856.6h0M1198 778.6h0M1197.8 784.6h0M1198.1 790.6h0M1197.6 796.6h0M1198.4 802.6h0M1197.8 808.6h0M1198.4 814.6h0M1197.7 820.6h0M1197.9 826.6h0M1197.7 832.6h0M1197.9 838.6h0M1197.6 844.6h0M1197.4 850.6h0M1198.3 856.6h0M1178 705.9h0M1169.4 712.7h0M1177.3 719.5h0M1188.7 714.5h0M1193 717.3h0M1187.3 724.5h0M1193 733.1h0M1187.3 737.4h0M1193 747.4h0M1177.3 748.8h0M1168.7 756h0M1195.9 764.6h0M1183 755h0M1189 760h0M1172 765h0M1200 768h0M1180 765h0" stroke="#02006e" stroke-width="11.2" stroke-linecap="round" fill="none"/>
<path d="M1218 775.6L1218.5 772.6L1253 772.6L1252.8 772.6L1253.3 775.6L1253.3 857A5.6 5.6 0 0 1 1247.7 862.6L1223.6 862.6A5.6 5.6 0 0 1 1218 857Z" fill="#02006e"/>
<path d="M1237 770.7h0M1229.2 771.9h0M1235.5 772.4h0M1234.9 771.9h0M1235.4 767.4h0M1236.6 760h0M1223.8 760.5h0M1234.9 766.2h0M1239.6 760.5h0M1232.6 768.6h0M1246.8 772.3h0M1239 764.8h0M1224.3 765.4h0M1240.1 758.3h0M1223.4 764.6h0M1224.2 770.6h0M1223.6 776.6h0M1223.6 782.6h0M1224.1 788.6h0M1223 794.6h0M1223.9 800.6h0M1223.8 806.6h0M1223.4 812.6h0M1224 818.6h0M1223.4 824.6h0M1223.6 830.6h0M1223.6 836.6h0M1223.9 842.6h0M1223.3 848.6h0M1223.5 854.6h0M1247.6 764.6h0M1247.8 770.6h0M1248.1 776.6h0M1247.5 782.6h0M1248.1 788.6h0M1247.6 794.6h0M1247.7 800.6h0M1247.4 806.6h0M1247.7 812.6h0M1248.3 818.6h0M1247.9 824.6h0M1248.1 830.6h0M1247.5 836.6h0M1247.5 842.6h0M1247.5 848.6h0M1247.8 854.6h0M1236.7 620.5h0M1236.7 628h0M1236.7 636.2h0M1236.7 670.8h0M1236.7 678h0M1236.7 687.2h0M1236.7 712.3h0M1236.7 718.8h0M1236.7 730.2h0M1245.3 723.1h0M1226.7 725.9h0M1226.7 735.9h0M1226.7 747.4h0M1238.8 743.1h0M1246.7 748.8h0M1222 752h0M1232 752h0M1250 755h0" stroke="#02006e" stroke-width="11.2" stroke-linecap="round" fill="none"/>
<path d="M1264.3 785.6L1264.8 782.6L1288.5 782.6L1289 785.6L1289 857A5.6 5.6 0 0 1 1283.4 862.6L1269.9 862.6A5.6 5.6 0 0 1 1264.3 857Z" fill="#02006e"/>
<path d="M1270.4 782.1h0M1280.8 776h0M1282.3 778.2h0M1270.1 779.1h0M1277.9 768.2h0M1283.1 777.7h0M1275.5 782.2h0M1278.6 781.3h0M1271.9 782.6h0M1270 773.9h0M1269.4 774.6h0M1270.5 780.6h0M1269.4 786.6h0M1270.3 792.6h0M1269.5 798.6h0M1269.3 804.6h0M1270.2 810.6h0M1269.6 816.6h0M1270.2 822.6h0M1269.5 828.6h0M1269.4 834.6h0M1270.2 840.6h0M1270.2 846.6h0M1270.3 852.6h0M1283.7 774.6h0M1282.9 780.6h0M1283.6 786.6h0M1283.7 792.6h0M1283.4 798.6h0M1283.9 804.6h0M1283.1 810.6h0M1284 816.6h0M1283.7 822.6h0M1282.8 828.6h0M1282.8 834.6h0M1283.6 840.6h0M1283.8 846.6h0M1282.9 852.6h0M1274.8 728.6h0M1278.8 730.8h0M1278.8 740.9h0M1282.7 751h0M1277.1 756.7h0M1270 760h0M1284 762h0" stroke="#02006e" stroke-width="11.2" stroke-linecap="round" fill="none"/>
<path d="M797.3 758L799.6 758L799.2 790L798.9 862L797.8 862L797.7 790Z" fill="#fff"/>
<path d="M220.5 782V806M220.5 858V864" stroke="#fff" stroke-width="1"/>
<path d="M843.8 761L848.2 761L846.6 775.5L845.6 775.5Z" fill="#fff"/>
<path d="M780.6 765.2h0M781.3 769.4h0M780.7 773.3h0M780.3 777.7h0M780.9 781.7h0M780.1 786.9h0M780.1 790.1h0M781 795.3h0M781.4 797.5h0M780.9 803.3h0M780.2 807.8h0M780.7 809.9h0M780.3 812.1h0M780 815.1h0M780.6 818.9h0M780.7 824.3h0M780.7 828.9h0M780.6 833.5h0M781.4 836.6h0M781.2 842.6h0M780.4 847.4h0M780.4 850.4h0M781.1 852.6h0M781.2 856.2h0M780.7 857h0M780.7 701.5h0M870.8 748h0M869.5 753.4h0M870.8 756.2h0M870.9 760.1h0M869.6 763.7h0M870.6 768.2h0M869.6 771.3h0M870.8 774.6h0M869.7 779.7h0M869.6 782.6h0M870.6 784.9h0M870.3 787.6h0M869.8 791.4h0M869.7 796.3h0M869.7 800.9h0M869.8 804.6h0M870.9 807.6h0M869.9 812.9h0M869.8 818.4h0M870.7 822h0M869.6 826.5h0M869.8 832.5h0M870.6 835.5h0M869.9 838.9h0M869.6 841.1h0M869.8 845.5h0M870 849.9h0M870.8 853.7h0M870.2 857h0M870.2 708.7h0" stroke="#ff0000" stroke-width="11.2" stroke-linecap="round"/>
<path d="M1236.7 367.3h0M1236.5 470.2h0M1236.5 476h0M1236.5 481.5h0M1236.5 486.5h0M1236.5 515.5h0M1236.5 521.8h0" stroke="#1fcc6c" stroke-width="11.2" stroke-linecap="round"/>
<g stroke="#555" stroke-width="2" stroke-dasharray="4.5 5.5" fill="none">
<path d="M782.8 277.5V695M872.4 277.5V703M1238.8 276.5V362"/>
</g>
<g transform="translate(790.1 271.45) rotate(-90)"><text x="0" y="0" font-size="33.46">NFIB/MPDZ</text></g>
<g transform="translate(880.8 270.55) rotate(-90)"><text x="0" y="0" font-size="33.53">PYROXD2/LOXL4</text></g>
<g transform="translate(1249.5 271.17) rotate(-90)"><text x="0" y="0" font-size="33.28">GDF5</text></g>
<g transform="translate(305.6 904.4)"><text x="0" y="0" font-size="34">2</text></g>
<g transform="translate(469.16 904.4)"><text x="0" y="0" font-size="34">4</text></g>
<g transform="translate(612.63 904.4)"><text x="0" y="0" font-size="34">6</text></g>
<g transform="translate(738.54 904.4)"><text x="0" y="0" font-size="34">8</text></g>
<g transform="translate(840.74 904.4)"><text x="18.9" y="0" font-size="34">0</text><path d="M9.15 0L12.21 0L12.21 -23.9L10.2 -23.9C9.25 -21.76 6.97 -19.89 3.43 -19.38L3.43 -16.8L9.15 -16.8Z"/></g>
<g transform="translate(947.33 904.4)"><text x="18.9" y="0" font-size="34">2</text><path d="M9.15 0L12.21 0L12.21 -23.9L10.2 -23.9C9.25 -21.76 6.97 -19.89 3.43 -19.38L3.43 -16.8L9.15 -16.8Z"/></g>
<g transform="translate(1037.48 904.4)"><text x="18.9" y="0" font-size="34">4</text><path d="M9.15 0L12.21 0L12.21 -23.9L10.2 -23.9C9.25 -21.76 6.97 -19.89 3.43 -19.38L3.43 -16.8L9.15 -16.8Z"/></g>
<g transform="translate(1099.42 904.4)"><text x="18.9" y="0" font-size="34">6</text><path d="M9.15 0L12.21 0L12.21 -23.9L10.2 -23.9C9.25 -21.76 6.97 -19.89 3.43 -19.38L3.43 -16.8L9.15 -16.8Z"/></g>
<g transform="translate(1165.71 904.4)"><text x="18.9" y="0" font-size="34">8</text><path d="M9.15 0L12.21 0L12.21 -23.9L10.2 -23.9C9.25 -21.76 6.97 -19.89 3.43 -19.38L3.43 -16.8L9.15 -16.8Z"/></g>
<g transform="translate(1217.11 904.4)"><text x="0" y="0" font-size="34">20</text></g>
<g transform="translate(1259.59 904.4)"><text x="0" y="0" font-size="34">22</text></g>
<g transform="translate(1321.74 904.4)"><text x="0" y="0" font-size="34">24</text></g>
<g transform="translate(210.28 954.3)"><path d="M9.15 0L12.21 0L12.21 -23.9L10.2 -23.9C9.25 -21.76 6.97 -19.89 3.43 -19.38L3.43 -16.8L9.15 -16.8Z"/></g>
<g transform="translate(393.24 954.3)"><text x="0" y="0" font-size="34">3</text></g>
<g transform="translate(542.98 954.3)"><text x="0" y="0" font-size="34">5</text></g>
<g transform="translate(678.02 954.3)"><text x="0" y="0" font-size="34">7</text></g>
<g transform="translate(795.45 954.3)"><text x="0" y="0" font-size="34">9</text></g>
<g transform="translate(894.53 954.3)"><path d="M9.15 0L12.21 0L12.21 -23.9L10.2 -23.9C9.25 -21.76 6.97 -19.89 3.43 -19.38L3.43 -16.8L9.15 -16.8ZM28.05 0L31.11 0L31.11 -23.9L29.1 -23.9C28.15 -21.76 25.87 -19.89 22.34 -19.38L22.34 -16.8L28.05 -16.8Z"/></g>
<g transform="translate(1001.22 954.3)"><text x="18.9" y="0" font-size="34">3</text><path d="M9.15 0L12.21 0L12.21 -23.9L10.2 -23.9C9.25 -21.76 6.97 -19.89 3.43 -19.38L3.43 -16.8L9.15 -16.8Z"/></g>
<g transform="translate(1071.49 954.3)"><text x="18.9" y="0" font-size="34">5</text><path d="M9.15 0L12.21 0L12.21 -23.9L10.2 -23.9C9.25 -21.76 6.97 -19.89 3.43 -19.38L3.43 -16.8L9.15 -16.8Z"/></g>
<g transform="translate(1133.73 954.3)"><text x="18.9" y="0" font-size="34">7</text><path d="M9.15 0L12.21 0L12.21 -23.9L10.2 -23.9C9.25 -21.76 6.97 -19.89 3.43 -19.38L3.43 -16.8L9.15 -16.8Z"/></g>
<g transform="translate(1194.08 954.3)"><text x="18.9" y="0" font-size="34">9</text><path d="M9.15 0L12.21 0L12.21 -23.9L10.2 -23.9C9.25 -21.76 6.97 -19.89 3.43 -19.38L3.43 -16.8L9.15 -16.8Z"/></g>
<g transform="translate(1244.49 954.3)"><text x="0" y="0" font-size="34">2</text><path d="M28.06 0L31.12 0L31.12 -23.9L29.11 -23.9C28.16 -21.76 25.88 -19.89 22.34 -19.38L22.34 -16.8L28.06 -16.8Z"/></g>
<g transform="translate(1290.38 954.3)"><text x="0" y="0" font-size="34">23</text></g>
<g transform="translate(98.97 929.3)"><text x="0" y="0" font-size="34.06">CHR:</text></g>
<path d="M150.2 1925.8L152 1925.1L153.9 1924.4L155.7 1923.8L157.5 1923.1L159.3 1922.4L161.2 1921.7L163 1921L164.8 1920.4L166.7 1919.7L168.5 1919L170.3 1918.3L172.1 1917.6L174 1916.9L175.8 1916.3L177.6 1915.6L179.5 1914.9L181.3 1914.2L183.1 1913.5L184.9 1912.9L186.8 1912.2L188.6 1911.5L190.4 1910.8L192.3 1910.1L194.1 1909.4L195.9 1908.8L197.8 1908.1L199.6 1907.4L201.4 1906.7L203.2 1906L205.1 1905.4L206.9 1904.7L208.7 1904L210.6 1903.3L212.4 1902.6L214.2 1901.9L216 1901.3L217.9 1900.6L219.7 1899.9L221.5 1899.2L223.4 1898.5L225.2 1897.9L227 1897.2L228.8 1896.5L230.7 1895.8L232.5 1895.1L234.3 1894.4L236.2 1893.8L238 1893.1L239.8 1892.4L241.6 1891.7L243.5 1891L245.3 1890.3L247.1 1889.7L249 1889L250.8 1888.3L252.6 1887.6L254.4 1886.9L256.3 1886.2L258.1 1885.6L259.9 1884.9L261.8 1884.2L263.6 1883.5L265.4 1882.8L267.2 1882.1L269.1 1881.5L270.9 1880.8L272.7 1880.1L274.6 1879.4L276.4 1878.7L278.2 1878.1L280 1877.4L281.9 1876.7L283.7 1876L285.5 1875.3L287.4 1874.6L289.2 1874L291 1873.3L292.9 1872.6L294.7 1871.9L296.5 1871.2L298.3 1870.5L300.2 1869.9L302 1869.2L303.8 1868.5L305.7 1867.8L307.5 1867.1L309.3 1866.4L311.1 1865.7L313 1865.1L314.8 1864.4L316.6 1863.7L318.5 1863L320.3 1862.3L322.1 1861.6L323.9 1861L325.8 1860.3L327.6 1859.6L329.4 1858.9L331.3 1858.2L333.1 1857.5L334.9 1856.9L336.7 1856.2L338.6 1855.5L340.4 1854.8L342.2 1854.1L344.1 1853.4L345.9 1852.7L347.7 1852.1L349.5 1851.4L351.4 1850.7L353.2 1850L355 1849.3L356.9 1848.6L358.7 1848L360.5 1847.3L362.3 1846.6L364.2 1845.9L366 1845.2L367.8 1844.5L369.7 1843.8L371.5 1843.2L373.3 1842.5L375.1 1841.8L377 1841.1L378.8 1840.4L380.6 1839.7L382.5 1839L384.3 1838.4L386.1 1837.7L388 1837L389.8 1836.3L391.6 1835.6L393.4 1834.9L395.3 1834.2L397.1 1833.5L398.9 1832.9L400.8 1832.2L402.6 1831.5L404.4 1830.8L406.2 1830.1L408.1 1829.4L409.9 1828.7L411.7 1828.1L413.6 1827.4L415.4 1826.7L417.2 1826L419 1825.3L420.9 1824.6L422.7 1823.9L424.5 1823.2L426.4 1822.6L428.2 1821.9L430 1821.2L431.8 1820.5L433.7 1819.8L435.5 1819.1L437.3 1818.4L439.2 1817.7L441 1817L442.8 1816.4L444.6 1815.7L446.5 1815L448.3 1814.3L450.1 1813.6L452 1812.9L453.8 1812.2L455.6 1811.5L457.4 1810.8L459.3 1810.2L461.1 1809.5L462.9 1808.8L464.8 1808.1L466.6 1807.4L468.4 1806.7L470.3 1806L472.1 1805.3L473.9 1804.6L475.7 1803.9L477.6 1803.2L479.4 1802.6L481.2 1801.9L483.1 1801.2L484.9 1800.5L486.7 1799.8L488.5 1799.1L490.4 1798.4L492.2 1797.7L494 1797L495.9 1796.3L497.7 1795.6L499.5 1794.9L501.3 1794.3L503.2 1793.6L505 1792.9L506.8 1792.2L508.7 1791.5L510.5 1790.8L512.3 1790.1L514.1 1789.4L516 1788.7L517.8 1788L519.6 1787.3L521.5 1786.6L523.3 1785.9L525.1 1785.2L526.9 1784.5L528.8 1783.8L530.6 1783.1L532.4 1782.4L534.3 1781.7L536.1 1781.1L537.9 1780.4L539.7 1779.7L541.6 1779L543.4 1778.3L545.2 1777.6L547.1 1776.9L548.9 1776.2L550.7 1775.5L552.5 1774.8L554.4 1774.1L556.2 1773.4L558 1772.7L559.9 1772L561.7 1771.3L563.5 1770.6L565.4 1769.9L567.2 1769.2L569 1768.5L570.8 1767.8L572.7 1767.1L574.5 1766.4L576.3 1765.7L578.2 1765L580 1764.3L581.8 1763.6L583.6 1762.9L585.5 1762.2L587.3 1761.5L589.1 1760.8L591 1760L592.8 1759.3L594.6 1758.6L596.4 1757.9L598.3 1757.2L600.1 1756.5L601.9 1755.8L603.8 1755.1L605.6 1754.4L607.4 1753.7L609.2 1753L611.1 1752.3L612.9 1751.6L614.7 1750.9L616.6 1750.2L618.4 1749.4L620.2 1748.7L622 1748L623.9 1747.3L625.7 1746.6L627.5 1745.9L629.4 1745.2L631.2 1744.5L633 1743.8L634.8 1743.1L636.7 1742.3L638.5 1741.6L640.3 1740.9L642.2 1740.2L644 1739.5L645.8 1738.8L647.6 1738L649.5 1737.3L651.3 1736.6L653.1 1735.9L655 1735.2L656.8 1734.5L658.6 1733.7L660.5 1733L662.3 1732.3L664.1 1731.6L665.9 1730.9L667.8 1730.1L669.6 1729.4L671.4 1728.7L673.3 1728L675.1 1727.3L676.9 1726.5L678.7 1725.8L680.6 1725.1L682.4 1724.4L684.2 1723.6L686.1 1722.9L687.9 1722.2L689.7 1721.4L691.5 1720.7L693.4 1720L695.2 1719.3L697 1718.5L698.9 1717.8L700.7 1717.1L702.5 1716.3L704.3 1715.6L706.2 1714.9L708 1714.1L709.8 1713.4L711.7 1712.6L713.5 1711.9L715.3 1711.2L717.1 1710.4L719 1709.7L720.8 1709L722.6 1708.2L724.5 1707.5L726.3 1706.7L728.1 1706L729.9 1705.2L731.8 1704.5L733.6 1703.7L735.4 1703L737.3 1702.2L739.1 1701.5L740.9 1700.7L742.7 1700L744.6 1699.2L746.4 1698.5L748.2 1697.7L750.1 1697L751.9 1696.2L753.7 1695.5L755.6 1694.7L757.4 1693.9L759.2 1693.2L761 1692.4L762.9 1691.7L764.7 1690.9L766.5 1690.1L768.4 1689.4L770.2 1688.6L772 1687.8L773.8 1687L775.7 1686.3L777.5 1685.5L779.3 1684.7L781.2 1684L783 1683.2L784.8 1682.4L786.6 1681.6L788.5 1680.8L790.3 1680L792.1 1679.3L794 1678.5L795.8 1677.7L797.6 1676.9L799.4 1676.1L801.3 1675.3L803.1 1674.5L804.9 1673.7L806.8 1672.9L808.6 1672.1L810.4 1671.3L812.2 1670.5L814.1 1669.7L815.9 1668.9L817.7 1668.1L819.6 1667.3L821.4 1666.5L823.2 1665.7L825 1664.8L826.9 1664L828.7 1663.2L830.5 1662.4L832.4 1661.6L834.2 1660.7L836 1659.9L837.9 1659.1L839.7 1658.2L841.5 1657.4L843.3 1656.6L845.2 1655.7L847 1654.9L848.8 1654L850.7 1653.2L852.5 1652.3L854.3 1651.5L856.1 1650.6L858 1649.8L859.8 1648.9L861.6 1648L863.5 1647.2L865.3 1646.3L867.1 1645.4L868.9 1644.5L870.8 1643.6L872.6 1642.8L874.4 1641.9L876.3 1641L878.1 1640.1L879.9 1639.2L881.7 1638.3L883.6 1637.4L885.4 1636.5L887.2 1635.6L889.1 1634.6L890.9 1633.7L892.7 1632.8L894.5 1631.9L896.4 1630.9L898.2 1630L900 1629L901.9 1628.1L903.7 1627.1L905.5 1626.2L907.3 1625.2L909.2 1624.3L911 1623.3L912.8 1622.3L914.7 1621.3L916.5 1620.3L918.3 1619.4L920.1 1618.4L922 1617.4L923.8 1616.3L925.6 1615.3L927.5 1614.3L929.3 1613.3L931.1 1612.2L933 1611.2L934.8 1610.2L936.6 1609.1L938.4 1608L940.3 1607L942.1 1605.9L943.9 1604.8L945.8 1603.7L947.6 1602.6L949.4 1601.5L951.2 1600.4L953.1 1599.3L954.9 1598.1L956.7 1597L958.6 1595.9L960.4 1594.7L962.2 1593.5L964 1592.3L965.9 1591.2L967.7 1590L969.5 1588.7L971.4 1587.5L973.2 1586.3L975 1585L976.8 1583.8L978.7 1582.5L980.5 1581.2L982.3 1580L984.2 1578.6L986 1577.3L987.8 1576L989.6 1574.6L991.5 1573.3L993.3 1571.9L995.1 1570.5L997 1569.1L998.8 1567.7L1000.6 1566.2L1002.4 1564.8L1004.3 1563.3L1006.1 1561.8L1007.9 1560.3L1009.8 1558.8L1011.6 1557.2L1013.4 1555.7L1015.2 1554.1L1017.1 1552.4L1018.9 1550.8L1020.7 1549.2L1022.6 1547.5L1024.4 1545.8L1026.2 1544L1028.1 1542.3L1029.9 1540.5L1031.7 1538.7L1033.5 1536.8L1035.4 1535L1037.2 1533.1L1039 1531.1L1040.9 1529.2L1042.7 1527.2L1044.5 1525.2L1046.3 1523.1L1048.2 1521L1050 1518.9L1051.8 1516.7L1053.7 1514.5L1055.5 1512.2L1057.3 1510L1059.1 1507.6L1061 1506.4L1062.8 1506.4L1062.8 1617.3L1061 1617.3L1059.1 1617.5L1057.3 1617.9L1055.5 1618.4L1053.7 1618.8L1051.8 1619.3L1050 1619.7L1048.2 1620.1L1046.3 1620.6L1044.5 1621L1042.7 1621.5L1040.9 1621.9L1039 1622.4L1037.2 1622.8L1035.4 1623.3L1033.5 1623.7L1031.7 1624.2L1029.9 1624.6L1028.1 1625.1L1026.2 1625.5L1024.4 1626L1022.6 1626.4L1020.7 1626.9L1018.9 1627.4L1017.1 1627.8L1015.2 1628.3L1013.4 1628.7L1011.6 1629.2L1009.8 1629.7L1007.9 1630.1L1006.1 1630.6L1004.3 1631.1L1002.4 1631.5L1000.6 1632L998.8 1632.5L997 1633L995.1 1633.4L993.3 1633.9L991.5 1634.4L989.6 1634.9L987.8 1635.3L986 1635.8L984.2 1636.3L982.3 1636.8L980.5 1637.3L978.7 1637.8L976.8 1638.2L975 1638.7L973.2 1639.2L971.4 1639.7L969.5 1640.2L967.7 1640.7L965.9 1641.2L964 1641.7L962.2 1642.2L960.4 1642.7L958.6 1643.2L956.7 1643.7L954.9 1644.2L953.1 1644.7L951.2 1645.2L949.4 1645.7L947.6 1646.2L945.8 1646.7L943.9 1647.2L942.1 1647.7L940.3 1648.2L938.4 1648.8L936.6 1649.3L934.8 1649.8L933 1650.3L931.1 1650.8L929.3 1651.3L927.5 1651.9L925.6 1652.4L923.8 1652.9L922 1653.4L920.1 1654L918.3 1654.5L916.5 1655L914.7 1655.6L912.8 1656.1L911 1656.6L909.2 1657.2L907.3 1657.7L905.5 1658.2L903.7 1658.8L901.9 1659.3L900 1659.9L898.2 1660.4L896.4 1660.9L894.5 1661.5L892.7 1662L890.9 1662.6L889.1 1663.1L887.2 1663.7L885.4 1664.2L883.6 1664.8L881.7 1665.3L879.9 1665.9L878.1 1666.4L876.3 1667L874.4 1667.6L872.6 1668.1L870.8 1668.7L868.9 1669.2L867.1 1669.8L865.3 1670.4L863.5 1670.9L861.6 1671.5L859.8 1672.1L858 1672.6L856.1 1673.2L854.3 1673.8L852.5 1674.3L850.7 1674.9L848.8 1675.5L847 1676.1L845.2 1676.6L843.3 1677.2L841.5 1677.8L839.7 1678.4L837.9 1678.9L836 1679.5L834.2 1680.1L832.4 1680.7L830.5 1681.3L828.7 1681.9L826.9 1682.4L825 1683L823.2 1683.6L821.4 1684.2L819.6 1684.8L817.7 1685.4L815.9 1686L814.1 1686.6L812.2 1687.2L810.4 1687.8L808.6 1688.3L806.8 1688.9L804.9 1689.5L803.1 1690.1L801.3 1690.7L799.4 1691.3L797.6 1691.9L795.8 1692.5L794 1693.1L792.1 1693.7L790.3 1694.3L788.5 1694.9L786.6 1695.6L784.8 1696.2L783 1696.8L781.2 1697.4L779.3 1698L777.5 1698.6L775.7 1699.2L773.8 1699.8L772 1700.4L770.2 1701L768.4 1701.6L766.5 1702.3L764.7 1702.9L762.9 1703.5L761 1704.1L759.2 1704.7L757.4 1705.3L755.6 1706L753.7 1706.6L751.9 1707.2L750.1 1707.8L748.2 1708.4L746.4 1709.1L744.6 1709.7L742.7 1710.3L740.9 1710.9L739.1 1711.5L737.3 1712.2L735.4 1712.8L733.6 1713.4L731.8 1714L729.9 1714.7L728.1 1715.3L726.3 1715.9L724.5 1716.6L722.6 1717.2L720.8 1717.8L719 1718.4L717.1 1719.1L715.3 1719.7L713.5 1720.3L711.7 1721L709.8 1721.6L708 1722.2L706.2 1722.9L704.3 1723.5L702.5 1724.1L700.7 1724.8L698.9 1725.4L697 1726.1L695.2 1726.7L693.4 1727.3L691.5 1728L689.7 1728.6L687.9 1729.2L686.1 1729.9L684.2 1730.5L682.4 1731.2L680.6 1731.8L678.7 1732.5L676.9 1733.1L675.1 1733.7L673.3 1734.4L671.4 1735L669.6 1735.7L667.8 1736.3L665.9 1737L664.1 1737.6L662.3 1738.2L660.5 1738.9L658.6 1739.5L656.8 1740.2L655 1740.8L653.1 1741.5L651.3 1742.1L649.5 1742.8L647.6 1743.4L645.8 1744.1L644 1744.7L642.2 1745.4L640.3 1746L638.5 1746.7L636.7 1747.3L634.8 1748L633 1748.6L631.2 1749.3L629.4 1749.9L627.5 1750.6L625.7 1751.2L623.9 1751.9L622 1752.5L620.2 1753.2L618.4 1753.8L616.6 1754.5L614.7 1755.2L612.9 1755.8L611.1 1756.5L609.2 1757.1L607.4 1757.8L605.6 1758.4L603.8 1759.1L601.9 1759.7L600.1 1760.4L598.3 1761.1L596.4 1761.7L594.6 1762.4L592.8 1763L591 1763.7L589.1 1764.4L587.3 1765L585.5 1765.7L583.6 1766.3L581.8 1767L580 1767.7L578.2 1768.3L576.3 1769L574.5 1769.6L572.7 1770.3L570.8 1771L569 1771.6L567.2 1772.3L565.4 1772.9L563.5 1773.6L561.7 1774.3L559.9 1774.9L558 1775.6L556.2 1776.3L554.4 1776.9L552.5 1777.6L550.7 1778.2L548.9 1778.9L547.1 1779.6L545.2 1780.2L543.4 1780.9L541.6 1781.6L539.7 1782.2L537.9 1782.9L536.1 1783.6L534.3 1784.2L532.4 1784.9L530.6 1785.6L528.8 1786.2L526.9 1786.9L525.1 1787.6L523.3 1788.2L521.5 1788.9L519.6 1789.6L517.8 1790.2L516 1790.9L514.1 1791.6L512.3 1792.2L510.5 1792.9L508.7 1793.6L506.8 1794.2L505 1794.9L503.2 1795.6L501.3 1796.2L499.5 1796.9L497.7 1797.6L495.9 1798.2L494 1798.9L492.2 1799.6L490.4 1800.2L488.5 1800.9L486.7 1801.6L484.9 1802.2L483.1 1802.9L481.2 1803.6L479.4 1804.3L477.6 1804.9L475.7 1805.6L473.9 1806.3L472.1 1806.9L470.3 1807.6L468.4 1808.3L466.6 1809L464.8 1809.6L462.9 1810.3L461.1 1811L459.3 1811.6L457.4 1812.3L455.6 1813L453.8 1813.7L452 1814.3L450.1 1815L448.3 1815.7L446.5 1816.3L444.6 1817L442.8 1817.7L441 1818.4L439.2 1819L437.3 1819.7L435.5 1820.4L433.7 1821L431.8 1821.7L430 1822.4L428.2 1823.1L426.4 1823.7L424.5 1824.4L422.7 1825.1L420.9 1825.8L419 1826.4L417.2 1827.1L415.4 1827.8L413.6 1828.5L411.7 1829.1L409.9 1829.8L408.1 1830.5L406.2 1831.1L404.4 1831.8L402.6 1832.5L400.8 1833.2L398.9 1833.8L397.1 1834.5L395.3 1835.2L393.4 1835.9L391.6 1836.5L389.8 1837.2L388 1837.9L386.1 1838.6L384.3 1839.2L382.5 1839.9L380.6 1840.6L378.8 1841.3L377 1841.9L375.1 1842.6L373.3 1843.3L371.5 1844L369.7 1844.6L367.8 1845.3L366 1846L364.2 1846.7L362.3 1847.3L360.5 1848L358.7 1848.7L356.9 1849.4L355 1850.1L353.2 1850.7L351.4 1851.4L349.5 1852.1L347.7 1852.8L345.9 1853.4L344.1 1854.1L342.2 1854.8L340.4 1855.5L338.6 1856.1L336.7 1856.8L334.9 1857.5L333.1 1858.2L331.3 1858.8L329.4 1859.5L327.6 1860.2L325.8 1860.9L323.9 1861.5L322.1 1862.2L320.3 1862.9L318.5 1863.6L316.6 1864.3L314.8 1864.9L313 1865.6L311.1 1866.3L309.3 1867L307.5 1867.6L305.7 1868.3L303.8 1869L302 1869.7L300.2 1870.4L298.3 1871L296.5 1871.7L294.7 1872.4L292.9 1873.1L291 1873.7L289.2 1874.4L287.4 1875.1L285.5 1875.8L283.7 1876.4L281.9 1877.1L280 1877.8L278.2 1878.5L276.4 1879.2L274.6 1879.8L272.7 1880.5L270.9 1881.2L269.1 1881.9L267.2 1882.5L265.4 1883.2L263.6 1883.9L261.8 1884.6L259.9 1885.3L258.1 1885.9L256.3 1886.6L254.4 1887.3L252.6 1888L250.8 1888.7L249 1889.3L247.1 1890L245.3 1890.7L243.5 1891.4L241.6 1892L239.8 1892.7L238 1893.4L236.2 1894.1L234.3 1894.8L232.5 1895.4L230.7 1896.1L228.8 1896.8L227 1897.5L225.2 1898.2L223.4 1898.8L221.5 1899.5L219.7 1900.2L217.9 1900.9L216 1901.5L214.2 1902.2L212.4 1902.9L210.6 1903.6L208.7 1904.3L206.9 1904.9L205.1 1905.6L203.2 1906.3L201.4 1907L199.6 1907.7L197.8 1908.3L195.9 1909L194.1 1909.7L192.3 1910.4L190.4 1911L188.6 1911.7L186.8 1912.4L184.9 1913.1L183.1 1913.8L181.3 1914.4L179.5 1915.1L177.6 1915.8L175.8 1916.5L174 1917.2L172.1 1917.8L170.3 1918.5L168.5 1919.2L166.7 1919.9L164.8 1920.6L163 1921.2L161.2 1921.9L159.3 1922.6L157.5 1923.3L155.7 1924L153.9 1924.6L152 1925.3L150.2 1926Z" fill="#cccccc"/>
<path d="M150.2 1925.8L152 1925.1L153.9 1924.4L155.7 1923.8L157.5 1923.1L159.3 1922.4L161.2 1921.7L163 1921L164.8 1920.4L166.7 1919.7L168.5 1919L170.3 1918.3L172.1 1917.6L174 1916.9L175.8 1916.3L177.6 1915.6L179.5 1914.9L181.3 1914.2L183.1 1913.5L184.9 1912.9L186.8 1912.2L188.6 1911.5L190.4 1910.8L192.3 1910.1L194.1 1909.4L195.9 1908.8L197.8 1908.1L199.6 1907.4L201.4 1906.7L203.2 1906L205.1 1905.4L206.9 1904.7L208.7 1904L210.6 1903.3L212.4 1902.6L214.2 1901.9L216 1901.3L217.9 1900.6L219.7 1899.9L221.5 1899.2L223.4 1898.5L225.2 1897.9L227 1897.2L228.8 1896.5L230.7 1895.8L232.5 1895.1L234.3 1894.4L236.2 1893.8L238 1893.1L239.8 1892.4L241.6 1891.7L243.5 1891L245.3 1890.3L247.1 1889.7L249 1889L250.8 1888.3L252.6 1887.6L254.4 1886.9L256.3 1886.2L258.1 1885.6L259.9 1884.9L261.8 1884.2L263.6 1883.5L265.4 1882.8L267.2 1882.1L269.1 1881.5L270.9 1880.8L272.7 1880.1L274.6 1879.4L276.4 1878.7L278.2 1878.1L280 1877.4L281.9 1876.7L283.7 1876L285.5 1875.3L287.4 1874.6L289.2 1874L291 1873.3L292.9 1872.6L294.7 1871.9L296.5 1871.2L298.3 1870.5L300.2 1869.9L302 1869.2L303.8 1868.5L305.7 1867.8L307.5 1867.1L309.3 1866.4L311.1 1865.7L313 1865.1L314.8 1864.4L316.6 1863.7L318.5 1863L320.3 1862.3L322.1 1861.6L323.9 1861L325.8 1860.3L327.6 1859.6L329.4 1858.9L331.3 1858.2L333.1 1857.5L334.9 1856.9L336.7 1856.2L338.6 1855.5L340.4 1854.8L342.2 1854.1L344.1 1853.4L345.9 1852.7L347.7 1852.1L349.5 1851.4L351.4 1850.7L353.2 1850L355 1849.3L356.9 1848.6L358.7 1848L360.5 1847.3L362.3 1846.6L364.2 1845.9L366 1845.2L367.8 1844.5L369.7 1843.8L371.5 1843.2L373.3 1842.5L375.1 1841.8L377 1841.1L378.8 1840.4L380.6 1839.7L382.5 1839L384.3 1838.4L386.1 1837.7L388 1837L389.8 1836.3L391.6 1835.6L393.4 1834.9L395.3 1834.2L397.1 1833.5L398.9 1832.9L400.8 1832.2L402.6 1831.5L404.4 1830.8L406.2 1830.1L408.1 1829.4L409.9 1828.7L411.7 1828.1L413.6 1827.4L415.4 1826.7L417.2 1826L419 1825.3L420.9 1824.6L422.7 1823.9L424.5 1823.2L426.4 1822.6L428.2 1821.9L430 1821.2L431.8 1820.5L433.7 1819.8L435.5 1819.1L437.3 1818.4L439.2 1817.7L441 1817L442.8 1816.4L444.6 1815.7L446.5 1815L448.3 1814.3L450.1 1813.6L452 1812.9L453.8 1812.2L455.6 1811.5L457.4 1810.8L459.3 1810.2L461.1 1809.5L462.9 1808.8L464.8 1808.1L466.6 1807.4L468.4 1806.7L470.3 1806L472.1 1805.3L473.9 1804.6L475.7 1803.9L477.6 1803.2L479.4 1802.6L481.2 1801.9L483.1 1801.2L484.9 1800.5L486.7 1799.8L488.5 1799.1L490.4 1798.4L492.2 1797.7L494 1797L495.9 1796.3L497.7 1795.6L499.5 1794.9L501.3 1794.3L503.2 1793.6L505 1792.9L506.8 1792.2L508.7 1791.5L510.5 1790.8L512.3 1790.1L514.1 1789.4L516 1788.7L517.8 1788L519.6 1787.3L521.5 1786.6L523.3 1785.9L525.1 1785.2L526.9 1784.5L528.8 1783.8L530.6 1783.1L532.4 1782.4L534.3 1781.7L536.1 1781.1L537.9 1780.4L539.7 1779.7L541.6 1779L543.4 1778.3L545.2 1777.6L547.1 1776.9L548.9 1776.2L550.7 1775.5L552.5 1774.8L554.4 1774.1L556.2 1773.4L558 1772.7L559.9 1772L561.7 1771.3L563.5 1770.6L565.4 1769.9L567.2 1769.2L569 1768.5L570.8 1767.8L572.7 1767.1L574.5 1766.4L576.3 1765.7L578.2 1765L580 1764.3L581.8 1763.6L583.6 1762.9L585.5 1762.2L587.3 1761.5L589.1 1760.8L591 1760L592.8 1759.3L594.6 1758.6L596.4 1757.9L598.3 1757.2L600.1 1756.5L601.9 1755.8L603.8 1755.1L605.6 1754.4L607.4 1753.7L609.2 1753L611.1 1752.3L612.9 1751.6L614.7 1750.9L616.6 1750.2L618.4 1749.4L620.2 1748.7L622 1748L623.9 1747.3L625.7 1746.6L627.5 1745.9L629.4 1745.2L631.2 1744.5L633 1743.8L634.8 1743.1L636.7 1742.3L638.5 1741.6L640.3 1740.9L642.2 1740.2L644 1739.5L645.8 1738.8L647.6 1738L649.5 1737.3L651.3 1736.6L653.1 1735.9L655 1735.2L656.8 1734.5L658.6 1733.7L660.5 1733L662.3 1732.3L664.1 1731.6L665.9 1730.9L667.8 1730.1L669.6 1729.4L671.4 1728.7L673.3 1728L675.1 1727.3L676.9 1726.5L678.7 1725.8L680.6 1725.1L682.4 1724.4L684.2 1723.6L686.1 1722.9L687.9 1722.2L689.7 1721.4L691.5 1720.7L693.4 1720L695.2 1719.3L697 1718.5L698.9 1717.8L700.7 1717.1L702.5 1716.3L704.3 1715.6L706.2 1714.9L708 1714.1L709.8 1713.4L711.7 1712.6L713.5 1711.9L715.3 1711.2L717.1 1710.4L719 1709.7L720.8 1709L722.6 1708.2L724.5 1707.5L726.3 1706.7L728.1 1706L729.9 1705.2L731.8 1704.5L733.6 1703.7L735.4 1703L737.3 1702.2L739.1 1701.5L740.9 1700.7L742.7 1700L744.6 1699.2L746.4 1698.5L748.2 1697.7L750.1 1697L751.9 1696.2L753.7 1695.5L755.6 1694.7L757.4 1693.9L759.2 1693.2L761 1692.4L762.9 1691.7L764.7 1690.9L766.5 1690.1L768.4 1689.4L770.2 1688.6L772 1687.8L773.8 1687L775.7 1686.3L777.5 1685.5L779.3 1684.7L781.2 1684L783 1683.2L784.8 1682.4L786.6 1681.6L788.5 1680.8L790.3 1680L792.1 1679.3L794 1678.5L795.8 1677.7L797.6 1676.9L799.4 1676.1L801.3 1675.3L803.1 1674.5L804.9 1673.7L806.8 1672.9L808.6 1672.1L810.4 1671.3L812.2 1670.5L814.1 1669.7L815.9 1668.9L817.7 1668.1L819.6 1667.3L821.4 1666.5L823.2 1665.7L825 1664.8L826.9 1664L828.7 1663.2L830.5 1662.4L832.4 1661.6L834.2 1660.7L836 1659.9L837.9 1659.1L839.7 1658.2L841.5 1657.4L843.3 1656.6L845.2 1655.7L847 1654.9L848.8 1654L850.7 1653.2L852.5 1652.3L854.3 1651.5L856.1 1650.6L858 1649.8L859.8 1648.9L861.6 1648L863.5 1647.2L865.3 1646.3L867.1 1645.4L868.9 1644.5L870.8 1643.6L872.6 1642.8L874.4 1641.9L876.3 1641L878.1 1640.1L879.9 1639.2L881.7 1638.3L883.6 1637.4L885.4 1636.5L887.2 1635.6L889.1 1634.6L890.9 1633.7L892.7 1632.8L894.5 1631.9L896.4 1630.9L898.2 1630L900 1629L901.9 1628.1L903.7 1627.1L905.5 1626.2L907.3 1625.2L909.2 1624.3L911 1623.3L912.8 1622.3L914.7 1621.3L916.5 1620.3L918.3 1619.4L920.1 1618.4L922 1617.4L923.8 1616.3L925.6 1615.3L927.5 1614.3L929.3 1613.3L931.1 1612.2L933 1611.2L934.8 1610.2L936.6 1609.1L938.4 1608L940.3 1607L942.1 1605.9L943.9 1604.8L945.8 1603.7L947.6 1602.6L949.4 1601.5L951.2 1600.4L953.1 1599.3L954.9 1598.1L956.7 1597L958.6 1595.9L960.4 1594.7L962.2 1593.5L964 1592.3L965.9 1591.2L967.7 1590L969.5 1588.7L971.4 1587.5L973.2 1586.3L975 1585L976.8 1583.8L978.7 1582.5L980.5 1581.2L982.3 1580L984.2 1578.6L986 1577.3L987.8 1576L989.6 1574.6L991.5 1573.3L993.3 1571.9L995.1 1570.5L997 1569.1L998.8 1567.7L1000.6 1566.2L1002.4 1564.8L1004.3 1563.3L1006.1 1561.8L1007.9 1560.3L1009.8 1558.8L1011.6 1557.2L1013.4 1555.7L1015.2 1554.1L1017.1 1552.4L1018.9 1550.8L1020.7 1549.2L1022.6 1547.5L1024.4 1545.8L1026.2 1544L1028.1 1542.3L1029.9 1540.5L1031.7 1538.7L1033.5 1536.8L1035.4 1535L1037.2 1533.1L1039 1531.1L1040.9 1529.2L1042.7 1527.2L1044.5 1525.2L1046.3 1523.1L1048.2 1521L1050 1518.9L1051.8 1516.7L1053.7 1514.5L1055.5 1512.2L1057.3 1510L1059.1 1507.6L1061 1506.4L1062.8 1506.4" stroke="#bababa" stroke-width="3" stroke-linecap="round" stroke-dasharray="10 18" fill="none"/>
<path d="M150.2 1926L152 1925.3L153.9 1924.6L155.7 1924L157.5 1923.3L159.3 1922.6L161.2 1921.9L163 1921.2L164.8 1920.6L166.7 1919.9L168.5 1919.2L170.3 1918.5L172.1 1917.8L174 1917.2L175.8 1916.5L177.6 1915.8L179.5 1915.1L181.3 1914.4L183.1 1913.8L184.9 1913.1L186.8 1912.4L188.6 1911.7L190.4 1911L192.3 1910.4L194.1 1909.7L195.9 1909L197.8 1908.3L199.6 1907.7L201.4 1907L203.2 1906.3L205.1 1905.6L206.9 1904.9L208.7 1904.3L210.6 1903.6L212.4 1902.9L214.2 1902.2L216 1901.5L217.9 1900.9L219.7 1900.2L221.5 1899.5L223.4 1898.8L225.2 1898.2L227 1897.5L228.8 1896.8L230.7 1896.1L232.5 1895.4L234.3 1894.8L236.2 1894.1L238 1893.4L239.8 1892.7L241.6 1892L243.5 1891.4L245.3 1890.7L247.1 1890L249 1889.3L250.8 1888.7L252.6 1888L254.4 1887.3L256.3 1886.6L258.1 1885.9L259.9 1885.3L261.8 1884.6L263.6 1883.9L265.4 1883.2L267.2 1882.5L269.1 1881.9L270.9 1881.2L272.7 1880.5L274.6 1879.8L276.4 1879.2L278.2 1878.5L280 1877.8L281.9 1877.1L283.7 1876.4L285.5 1875.8L287.4 1875.1L289.2 1874.4L291 1873.7L292.9 1873.1L294.7 1872.4L296.5 1871.7L298.3 1871L300.2 1870.4L302 1869.7L303.8 1869L305.7 1868.3L307.5 1867.6L309.3 1867L311.1 1866.3L313 1865.6L314.8 1864.9L316.6 1864.3L318.5 1863.6L320.3 1862.9L322.1 1862.2L323.9 1861.5L325.8 1860.9L327.6 1860.2L329.4 1859.5L331.3 1858.8L333.1 1858.2L334.9 1857.5L336.7 1856.8L338.6 1856.1L340.4 1855.5L342.2 1854.8L344.1 1854.1L345.9 1853.4L347.7 1852.8L349.5 1852.1L351.4 1851.4L353.2 1850.7L355 1850.1L356.9 1849.4L358.7 1848.7L360.5 1848L362.3 1847.3L364.2 1846.7L366 1846L367.8 1845.3L369.7 1844.6L371.5 1844L373.3 1843.3L375.1 1842.6L377 1841.9L378.8 1841.3L380.6 1840.6L382.5 1839.9L384.3 1839.2L386.1 1838.6L388 1837.9L389.8 1837.2L391.6 1836.5L393.4 1835.9L395.3 1835.2L397.1 1834.5L398.9 1833.8L400.8 1833.2L402.6 1832.5L404.4 1831.8L406.2 1831.1L408.1 1830.5L409.9 1829.8L411.7 1829.1L413.6 1828.5L415.4 1827.8L417.2 1827.1L419 1826.4L420.9 1825.8L422.7 1825.1L424.5 1824.4L426.4 1823.7L428.2 1823.1L430 1822.4L431.8 1821.7L433.7 1821L435.5 1820.4L437.3 1819.7L439.2 1819L441 1818.4L442.8 1817.7L444.6 1817L446.5 1816.3L448.3 1815.7L450.1 1815L452 1814.3L453.8 1813.7L455.6 1813L457.4 1812.3L459.3 1811.6L461.1 1811L462.9 1810.3L464.8 1809.6L466.6 1809L468.4 1808.3L470.3 1807.6L472.1 1806.9L473.9 1806.3L475.7 1805.6L477.6 1804.9L479.4 1804.3L481.2 1803.6L483.1 1802.9L484.9 1802.2L486.7 1801.6L488.5 1800.9L490.4 1800.2L492.2 1799.6L494 1798.9L495.9 1798.2L497.7 1797.6L499.5 1796.9L501.3 1796.2L503.2 1795.6L505 1794.9L506.8 1794.2L508.7 1793.6L510.5 1792.9L512.3 1792.2L514.1 1791.6L516 1790.9L517.8 1790.2L519.6 1789.6L521.5 1788.9L523.3 1788.2L525.1 1787.6L526.9 1786.9L528.8 1786.2L530.6 1785.6L532.4 1784.9L534.3 1784.2L536.1 1783.6L537.9 1782.9L539.7 1782.2L541.6 1781.6L543.4 1780.9L545.2 1780.2L547.1 1779.6L548.9 1778.9L550.7 1778.2L552.5 1777.6L554.4 1776.9L556.2 1776.3L558 1775.6L559.9 1774.9L561.7 1774.3L563.5 1773.6L565.4 1772.9L567.2 1772.3L569 1771.6L570.8 1771L572.7 1770.3L574.5 1769.6L576.3 1769L578.2 1768.3L580 1767.7L581.8 1767L583.6 1766.3L585.5 1765.7L587.3 1765L589.1 1764.4L591 1763.7L592.8 1763L594.6 1762.4L596.4 1761.7L598.3 1761.1L600.1 1760.4L601.9 1759.7L603.8 1759.1L605.6 1758.4L607.4 1757.8L609.2 1757.1L611.1 1756.5L612.9 1755.8L614.7 1755.2L616.6 1754.5L618.4 1753.8L620.2 1753.2L622 1752.5L623.9 1751.9L625.7 1751.2L627.5 1750.6L629.4 1749.9L631.2 1749.3L633 1748.6L634.8 1748L636.7 1747.3L638.5 1746.7L640.3 1746L642.2 1745.4L644 1744.7L645.8 1744.1L647.6 1743.4L649.5 1742.8L651.3 1742.1L653.1 1741.5L655 1740.8L656.8 1740.2L658.6 1739.5L660.5 1738.9L662.3 1738.2L664.1 1737.6L665.9 1737L667.8 1736.3L669.6 1735.7L671.4 1735L673.3 1734.4L675.1 1733.7L676.9 1733.1L678.7 1732.5L680.6 1731.8L682.4 1731.2L684.2 1730.5L686.1 1729.9L687.9 1729.2L689.7 1728.6L691.5 1728L693.4 1727.3L695.2 1726.7L697 1726.1L698.9 1725.4L700.7 1724.8L702.5 1724.1L704.3 1723.5L706.2 1722.9L708 1722.2L709.8 1721.6L711.7 1721L713.5 1720.3L715.3 1719.7L717.1 1719.1L719 1718.4L720.8 1717.8L722.6 1717.2L724.5 1716.6L726.3 1715.9L728.1 1715.3L729.9 1714.7L731.8 1714L733.6 1713.4L735.4 1712.8L737.3 1712.2L739.1 1711.5L740.9 1710.9L742.7 1710.3L744.6 1709.7L746.4 1709.1L748.2 1708.4L750.1 1707.8L751.9 1707.2L753.7 1706.6L755.6 1706L757.4 1705.3L759.2 1704.7L761 1704.1L762.9 1703.5L764.7 1702.9L766.5 1702.3L768.4 1701.6L770.2 1701L772 1700.4L773.8 1699.8L775.7 1699.2L777.5 1698.6L779.3 1698L781.2 1697.4L783 1696.8L784.8 1696.2L786.6 1695.6L788.5 1694.9L790.3 1694.3L792.1 1693.7L794 1693.1L795.8 1692.5L797.6 1691.9L799.4 1691.3L801.3 1690.7L803.1 1690.1L804.9 1689.5L806.8 1688.9L808.6 1688.3L810.4 1687.8L812.2 1687.2L814.1 1686.6L815.9 1686L817.7 1685.4L819.6 1684.8L821.4 1684.2L823.2 1683.6L825 1683L826.9 1682.4L828.7 1681.9L830.5 1681.3L832.4 1680.7L834.2 1680.1L836 1679.5L837.9 1678.9L839.7 1678.4L841.5 1677.8L843.3 1677.2L845.2 1676.6L847 1676.1L848.8 1675.5L850.7 1674.9L852.5 1674.3L854.3 1673.8L856.1 1673.2L858 1672.6L859.8 1672.1L861.6 1671.5L863.5 1670.9L865.3 1670.4L867.1 1669.8L868.9 1669.2L870.8 1668.7L872.6 1668.1L874.4 1667.6L876.3 1667L878.1 1666.4L879.9 1665.9L881.7 1665.3L883.6 1664.8L885.4 1664.2L887.2 1663.7L889.1 1663.1L890.9 1662.6L892.7 1662L894.5 1661.5L896.4 1660.9L898.2 1660.4L900 1659.9L901.9 1659.3L903.7 1658.8L905.5 1658.2L907.3 1657.7L909.2 1657.2L911 1656.6L912.8 1656.1L914.7 1655.6L916.5 1655L918.3 1654.5L920.1 1654L922 1653.4L923.8 1652.9L925.6 1652.4L927.5 1651.9L929.3 1651.3L931.1 1650.8L933 1650.3L934.8 1649.8L936.6 1649.3L938.4 1648.8L940.3 1648.2L942.1 1647.7L943.9 1647.2L945.8 1646.7L947.6 1646.2L949.4 1645.7L951.2 1645.2L953.1 1644.7L954.9 1644.2L956.7 1643.7L958.6 1643.2L960.4 1642.7L962.2 1642.2L964 1641.7L965.9 1641.2L967.7 1640.7L969.5 1640.2L971.4 1639.7L973.2 1639.2L975 1638.7L976.8 1638.2L978.7 1637.8L980.5 1637.3L982.3 1636.8L984.2 1636.3L986 1635.8L987.8 1635.3L989.6 1634.9L991.5 1634.4L993.3 1633.9L995.1 1633.4L997 1633L998.8 1632.5L1000.6 1632L1002.4 1631.5L1004.3 1631.1L1006.1 1630.6L1007.9 1630.1L1009.8 1629.7L1011.6 1629.2L1013.4 1628.7L1015.2 1628.3L1017.1 1627.8L1018.9 1627.4L1020.7 1626.9L1022.6 1626.4L1024.4 1626L1026.2 1625.5L1028.1 1625.1L1029.9 1624.6L1031.7 1624.2L1033.5 1623.7L1035.4 1623.3L1037.2 1622.8L1039 1622.4L1040.9 1621.9L1042.7 1621.5L1044.5 1621L1046.3 1620.6L1048.2 1620.1L1050 1619.7L1051.8 1619.3L1053.7 1618.8L1055.5 1618.4L1057.3 1617.9L1059.1 1617.5L1061 1617.3L1062.8 1617.3" stroke="#bababa" stroke-width="3" stroke-linecap="round" stroke-dasharray="10 18" fill="none"/>
<path d="M111.7 1940.2L1151.2 1553.5" stroke="#b52327" stroke-width="3.4" fill="none"/>
<path d="M148.2 1926.6L250 1888L300 1868.7L360 1845.5L400 1830L440 1814.1L463 1804.3L500 1790.5L560 1765.5L585.8 1755.2L611.5 1743.2L637.3 1732L663.1 1722.7L688.8 1710.6" stroke="#17528f" stroke-width="7.8" stroke-linecap="round" stroke-linejoin="round" fill="none"/>
<path d="M688.9 1710.9h0M690.8 1710.6h0M692.5 1710h0M693.5 1708.8h0M696.1 1708.5h0M697.8 1707.3h0M699.1 1706.8h0M700.9 1706.7h0M702.1 1705.7h0M704.1 1705.9h0M706.3 1704.4h0M708.1 1703.8h0M709.6 1703.3h0M710.3 1702.8h0M711.8 1700.8h0M713.8 1700.2h0M714.4 1699.1h0M716.4 1698h0M717.7 1697.7h0M720 1697h0M721.9 1695.5h0M723.1 1694.7h0M724.6 1693.9h0M726.4 1693.9h0M727.9 1693.3h0M729.9 1692.2h0M732.1 1691.7h0M733.3 1690.9h0M735.4 1689.6h0M737.4 1688.7h0M738.9 1688.9h0M739.9 1688h0M742 1687h0M743.3 1685.5h0M745.2 1685.8h0M747 1684.7h0M749.4 1684.2h0M750.6 1682.7h0M752.5 1682.4h0M753.8 1681.5h0M756.2 1680.8h0M757.1 1680.1h0M758.9 1678.8h0M761.1 1678.8h0M762.6 1678.1h0M764.5 1676.7h0M766 1675.9h0M767.5 1675.2h0M769.8 1675.6h0M771 1673.8h0M773.5 1673.7h0M774.6 1672.7h0M776.6 1672.7h0M778.1 1671.6h0M779.4 1671.5h0M781.1 1670.4h0M783 1668.1h0M783.9 1667.2h0M785.7 1665.8h0M787 1664.2h0M788.8 1663.4h0M790.8 1661.1h0M793.4 1659.7h0M794.7 1656.9h0M795.6 1655h0M797.4 1653.5h0M799.2 1652.4h0M801 1652.5h0M803.5 1651.2h0M805.3 1649.5h0M807.2 1648h0M810.2 1647.8h0M812.1 1646.7h0M813.4 1644.8h0M814.2 1643h0M814.8 1641.1h0M816.1 1638.6h0M818 1636.5h0M818.2 1635h0M819.2 1632.7h0M819.3 1630.9h0M820.3 1629.2h0M821.4 1627.5h0M822.4 1625.7h0M823 1623.2h0M824.3 1621.1h0M825.4 1619.5h0M827.3 1617.7h0M829.7 1617.3h0M831.5 1616.1h0M833 1616.5h0M835.2 1616.1h0" stroke="#17528f" stroke-width="7.6" stroke-linecap="round" fill="none"/>
<path d="M839.6 1606.9h0M843.3 1600h0M847.1 1581.9h0M851 1566.2h0M855.4 1559.1h0M859.8 1539.3h0M864.6 1525.5h0M870.1 1515.9h0M875.6 1515.9h0M881.9 1509.9h0M888.4 1335h0M895.8 1326.6h0M903.9 1323.8h0M913.2 1273.6h0M923.5 1267h0M935.7 1265.2h0M950.5 1265.2h0M969 1258.1h0M993.4 1245.1h0M1031.1 1245.1h0M1111.4 1064.7h0" stroke="#17528f" stroke-width="7.4" stroke-linecap="round" fill="none"/>
<rect x="111.7" y="1029.5" width="1039.5" height="930.8" fill="none" stroke="#000" stroke-width="1.8"/>
<g stroke="#000" stroke-width="1.8" fill="none">
<path d="M93.2 1925.9H111.7"/>
<path d="M93.2 1800.4H111.7"/>
<path d="M93.2 1674.9H111.7"/>
<path d="M93.2 1549.4H111.7"/>
<path d="M93.2 1423.9H111.7"/>
<path d="M93.2 1298.4H111.7"/>
<path d="M93.2 1172.9H111.7"/>
<path d="M93.2 1047.4H111.7"/>
<path d="M150.2 1960.3V1979.2"/>
<path d="M318.9 1960.3V1979.2"/>
<path d="M487.5 1960.3V1979.2"/>
<path d="M656.2 1960.3V1979.2"/>
<path d="M824.8 1960.3V1979.2"/>
<path d="M993.5 1960.3V1979.2"/>
</g>
<g transform="translate(66.52 1934.2)"><text x="0" y="0" font-size="34">0</text></g>
<g transform="translate(66.9 1808.7)"><text x="0" y="0" font-size="34">2</text></g>
<g transform="translate(66.19 1683.2)"><text x="0" y="0" font-size="34">4</text></g>
<g transform="translate(66.68 1557.7)"><text x="0" y="0" font-size="34">6</text></g>
<g transform="translate(66.66 1432.2)"><text x="0" y="0" font-size="34">8</text></g>
<g transform="translate(47.62 1306.7)"><text x="18.9" y="0" font-size="34">0</text><path d="M9.15 0L12.21 0L12.21 -23.9L10.2 -23.9C9.25 -21.76 6.97 -19.89 3.43 -19.38L3.43 -16.8L9.15 -16.8Z"/></g>
<g transform="translate(47.99 1181.2)"><text x="18.9" y="0" font-size="34">2</text><path d="M9.15 0L12.21 0L12.21 -23.9L10.2 -23.9C9.25 -21.76 6.97 -19.89 3.43 -19.38L3.43 -16.8L9.15 -16.8Z"/></g>
<g transform="translate(47.29 1055.7)"><text x="18.9" y="0" font-size="34">4</text><path d="M9.15 0L12.21 0L12.21 -23.9L10.2 -23.9C9.25 -21.76 6.97 -19.89 3.43 -19.38L3.43 -16.8L9.15 -16.8Z"/></g>
<g transform="translate(140.75 2013)"><text x="0" y="0" font-size="34">0</text></g>
<g transform="translate(311.03 2013)"><path d="M9.15 0L12.21 0L12.21 -23.9L10.2 -23.9C9.25 -21.76 6.97 -19.89 3.43 -19.38L3.43 -16.8L9.15 -16.8Z"/></g>
<g transform="translate(478.05 2013)"><text x="0" y="0" font-size="34">2</text></g>
<g transform="translate(646.79 2013)"><text x="0" y="0" font-size="34">3</text></g>
<g transform="translate(815.46 2013)"><text x="0" y="0" font-size="34">4</text></g>
<g transform="translate(984.03 2013)"><text x="0" y="0" font-size="34">5</text></g>
<g transform="translate(439.23 2057.8)"><text x="0" y="0" font-size="33.71">Expected &#8211;log</text><text x="227.48" y="8.2" font-size="24.78">0</text><text x="250.63" y="0" font-size="33.71">(</text><text x="261.86" y="0" font-size="33.71" font-style="italic">p</text><text x="280.61" y="0" font-size="33.71">-value)</text><path d="M220.37 8.2L222.6 8.2L222.6 -9.22L221.14 -9.22C220.45 -7.66 218.79 -6.3 216.21 -5.92L216.21 -4.04L220.37 -4.04Z"/></g>
<g transform="translate(24.8 1697.92) rotate(-90)"><text x="0" y="0" font-size="34.4">Observed &#8211;log</text><text x="237.83" y="8.2" font-size="25.28">0</text><text x="261.45" y="0" font-size="34.4">(</text><text x="272.91" y="0" font-size="34.4" font-style="italic">p</text><text x="292.04" y="0" font-size="34.4">-value)</text><path d="M230.58 8.2L232.85 8.2L232.85 -9.57L231.36 -9.57C230.65 -7.98 228.96 -6.59 226.33 -6.21L226.33 -4.29L230.58 -4.29Z"/></g>
</svg></body></html>
